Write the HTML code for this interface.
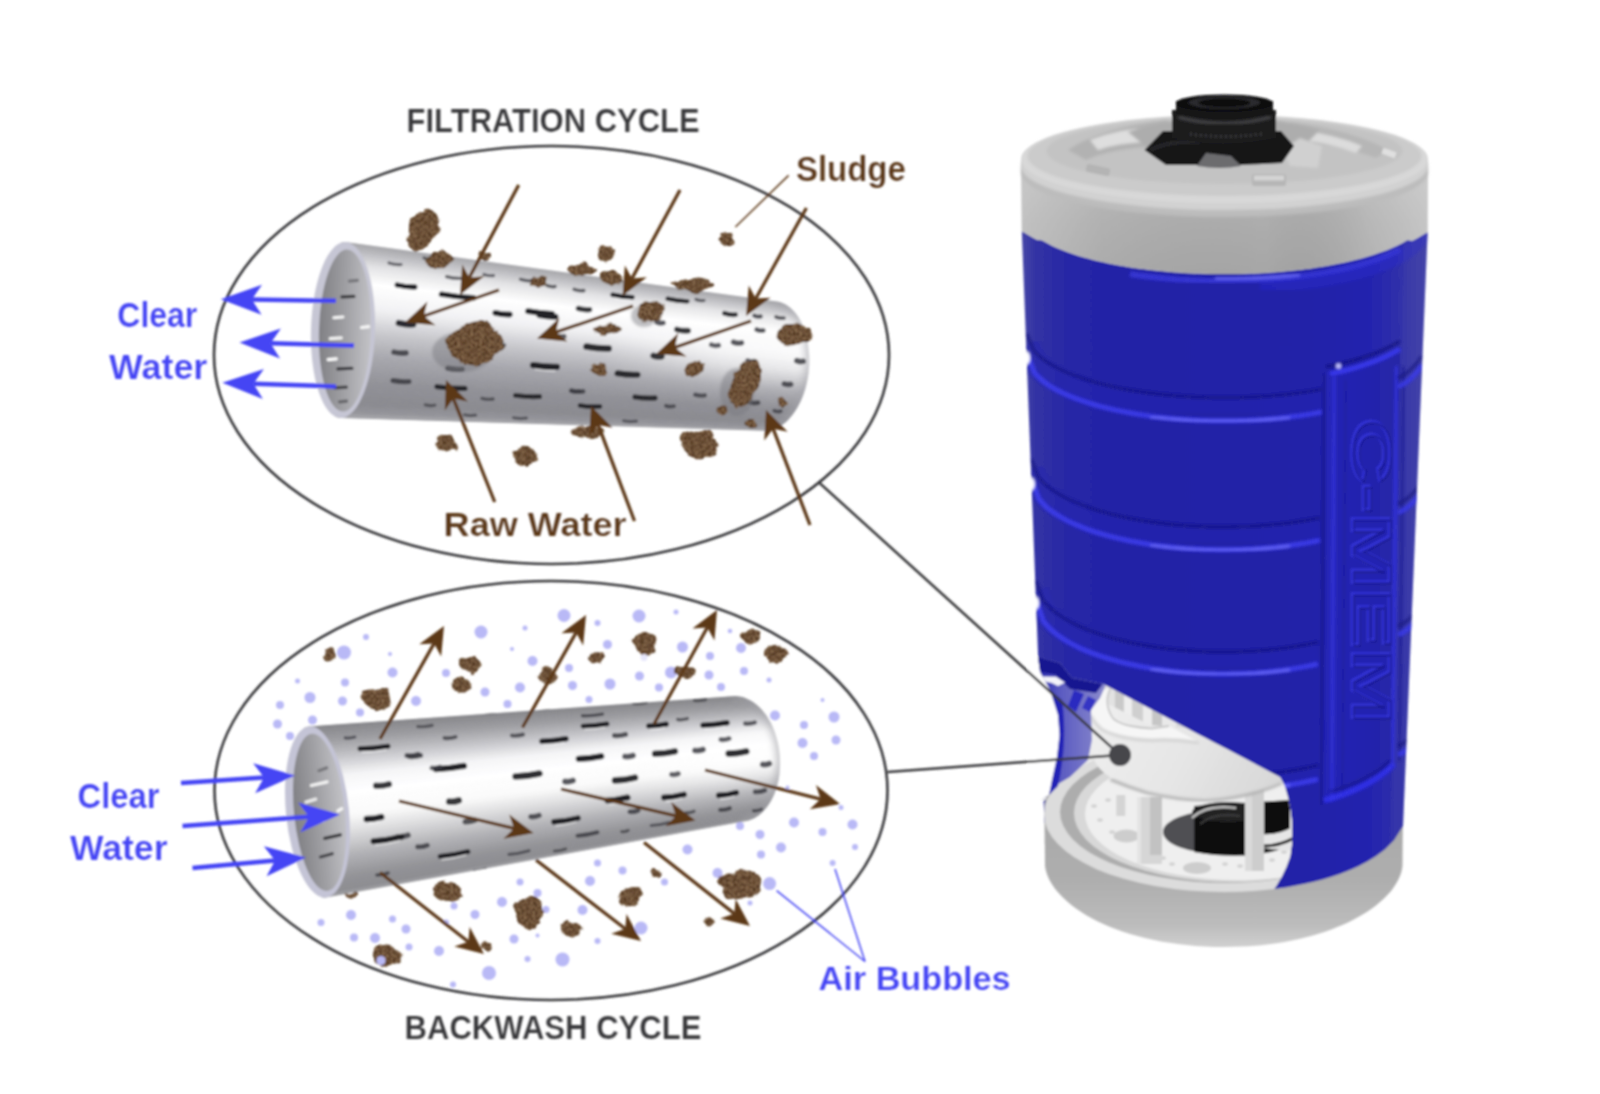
<!DOCTYPE html>
<html><head><meta charset="utf-8"><title>C-MEM filtration and backwash cycle</title>
<style>html,body{margin:0;padding:0;background:#fff;overflow:hidden}svg{display:block}</style></head>
<body>
<svg width="1600" height="1094" viewBox="0 0 1600 1094">
<rect width="1600" height="1094" fill="#fff"/>

<defs>
<filter id="sl" x="-20%" y="-20%" width="140%" height="140%">
  <feTurbulence type="fractalNoise" baseFrequency="0.11" numOctaves="2" seed="3" result="dn"/>
  <feDisplacementMap in="SourceGraphic" in2="dn" scale="7" xChannelSelector="R" yChannelSelector="G" result="sg"/>
  <feTurbulence type="fractalNoise" baseFrequency="0.45" numOctaves="2" seed="7" result="n"/>
  <feColorMatrix in="n" type="matrix" values="0 0 0 0 0  0 0 0 0 0  0 0 0 0 0  1.5 1.5 0 0 -1.22" result="m"/>
  <feFlood flood-color="#9c7e5e" result="fl"/>
  <feComposite in="fl" in2="m" operator="in" result="spk"/>
  <feTurbulence type="fractalNoise" baseFrequency="0.3" numOctaves="1" seed="11" result="n2"/>
  <feColorMatrix in="n2" type="matrix" values="0 0 0 0 0  0 0 0 0 0  0 0 0 0 0  0 1.8 1.8 0 -1.15" result="m2"/>
  <feFlood flood-color="#452a14" result="fl2"/>
  <feComposite in="fl2" in2="m2" operator="in" result="drk"/>
  <feMerge result="tex"><feMergeNode in="sg"/><feMergeNode in="drk"/><feMergeNode in="spk"/></feMerge>
  <feComposite in="tex" in2="sg" operator="in" result="c"/>
  <feGaussianBlur in="c" stdDeviation="0.6"/>
</filter>
<filter id="soft" x="-5%" y="-5%" width="110%" height="110%"><feGaussianBlur stdDeviation="0.3"/></filter>
<filter id="gb" x="0" y="0" width="1600" height="1094" filterUnits="userSpaceOnUse"><feGaussianBlur stdDeviation="0.85"/></filter>
<filter id="soft2" x="-5%" y="-5%" width="110%" height="110%"><feGaussianBlur stdDeviation="1.2"/></filter>
<filter id="soft4" x="-30%" y="-10%" width="160%" height="120%"><feGaussianBlur stdDeviation="3"/></filter>
</defs>

<g filter="url(#gb)">
<g filter="url(#soft)">
<ellipse cx="551.5" cy="355" rx="337.5" ry="209" fill="none" stroke="#38383a" stroke-width="2.6"/>
<ellipse cx="551" cy="790.5" rx="336.5" ry="209.5" fill="none" stroke="#38383a" stroke-width="2.6"/>
</g>
<g filter="url(#soft)">
<linearGradient id="t1g" gradientUnits="userSpaceOnUse" x1="600" y1="0" x2="805" y2="0"><stop offset="0" stop-color="#fff" stop-opacity="0"/><stop offset="0.6" stop-color="#fff" stop-opacity="0.8"/><stop offset="1" stop-color="#fff" stop-opacity="1"/></linearGradient>
<clipPath id="t1c"><path d="M775.5,301.3 L778.6,301.8 L781.6,302.7 L784.6,304 L787.4,305.7 L790.2,307.8 L792.8,310.2 L795.3,312.9 L797.6,316 L799.8,319.4 L801.7,323.1 L803.5,327 L805,331.2 L806.3,335.6 L807.4,340.2 L808.2,344.9 L808.8,349.8 L809.2,354.8 L809.3,359.8 L809.2,364.9 L808.8,370 L808.2,375 L807.3,380 L806.2,385 L804.9,389.8 L803.3,394.4 L801.5,398.9 L799.6,403.2 L797.4,407.2 L795.1,411 L792.6,414.5 L789.9,417.8 L787.2,420.7 L784.3,423.2 L781.3,425.4 L778.3,427.3 L775.2,428.7 L772,429.8 L768.9,430.5 L765.7,430.8 L762.5,430.7 L340.5,418 L338,417.6 L335.6,416.7 L333.1,415.3 L330.8,413.4 L328.5,410.9 L326.3,408 L324.2,404.5 L322.2,400.6 L320.4,396.3 L318.6,391.6 L317.1,386.4 L315.7,381 L314.4,375.2 L313.4,369.1 L312.5,362.8 L311.8,356.3 L311.3,349.7 L311,342.9 L310.9,336 L311,329.1 L311.3,322.2 L311.8,315.4 L312.5,308.6 L313.3,302 L314.4,295.5 L315.6,289.3 L317,283.3 L318.6,277.6 L320.3,272.2 L322.1,267.2 L324.1,262.5 L326.2,258.3 L328.4,254.5 L330.7,251.2 L333,248.4 L335.5,246.1 L337.9,244.3 L340.4,243 L342.9,242.2 L345.5,242Z"/></clipPath>
<g clip-path="url(#t1c)">
<polygon points="336.9,240.8 840,310.2 851.4,314 345.9,244.8" fill="#a7a7ab" stroke="#a7a7ab" stroke-width="0.8"/>
<polygon points="345.9,244.8 851.4,314 855.7,317.1 349.4,248.6" fill="#b0b0b4" stroke="#b0b0b4" stroke-width="0.8"/>
<polygon points="349.4,248.6 855.7,317.1 858.9,320 352,252.3" fill="#b9b9bd" stroke="#b9b9bd" stroke-width="0.8"/>
<polygon points="574.4,279 855.7,317.1 858.9,320 577.3,282.4" fill="url(#t1g)" opacity="0.03"/>
<polygon points="352,252.3 858.9,320 861.4,322.9 354.1,256" fill="#c3c3c7" stroke="#c3c3c7" stroke-width="0.8"/>
<polygon points="577.3,282.4 858.9,320 861.4,322.9 579.6,285.7" fill="url(#t1g)" opacity="0.04"/>
<polygon points="354.1,256 861.4,322.9 863.5,325.7 355.8,259.8" fill="#cdcdd0" stroke="#cdcdd0" stroke-width="0.8"/>
<polygon points="579.6,285.7 861.4,322.9 863.5,325.7 581.5,289.1" fill="url(#t1g)" opacity="0.06"/>
<polygon points="355.8,259.8 863.5,325.7 865.3,328.4 357.3,263.5" fill="#d8d8da" stroke="#d8d8da" stroke-width="0.8"/>
<polygon points="581.5,289.1 863.5,325.7 865.3,328.4 583.1,292.4" fill="url(#t1g)" opacity="0.08"/>
<polygon points="357.3,263.5 865.3,328.4 866.8,331.2 358.6,267.2" fill="#e2e2e4" stroke="#e2e2e4" stroke-width="0.8"/>
<polygon points="583.1,292.4 865.3,328.4 866.8,331.2 584.5,295.7" fill="url(#t1g)" opacity="0.11"/>
<polygon points="358.6,267.2 866.8,331.2 868.1,333.9 359.8,270.9" fill="#e8e8ea" stroke="#e8e8ea" stroke-width="0.8"/>
<polygon points="584.5,295.7 866.8,331.2 868.1,333.9 585.7,298.9" fill="url(#t1g)" opacity="0.15"/>
<polygon points="359.8,270.9 868.1,333.9 869.3,336.6 360.8,274.7" fill="#eeeeef" stroke="#eeeeef" stroke-width="0.8"/>
<polygon points="585.7,298.9 868.1,333.9 869.3,336.6 586.8,302.2" fill="url(#t1g)" opacity="0.19"/>
<polygon points="360.8,274.7 869.3,336.6 870.3,339.3 361.7,278.4" fill="#f4f4f4" stroke="#f4f4f4" stroke-width="0.8"/>
<polygon points="586.8,302.2 869.3,336.6 870.3,339.3 587.8,305.5" fill="url(#t1g)" opacity="0.25"/>
<polygon points="361.7,278.4 870.3,339.3 871.2,342 362.5,282.1" fill="#f9f9fa" stroke="#f9f9fa" stroke-width="0.8"/>
<polygon points="587.8,305.5 870.3,339.3 871.2,342 588.6,308.7" fill="url(#t1g)" opacity="0.31"/>
<polygon points="362.5,282.1 871.2,342 871.9,344.6 363.2,285.8" fill="#ffffff" stroke="#ffffff" stroke-width="0.8"/>
<polygon points="588.6,308.7 871.2,342 871.9,344.6 589.3,311.9" fill="url(#t1g)" opacity="0.38"/>
<polygon points="363.2,285.8 871.9,344.6 872.6,347.3 363.9,289.5" fill="#fdfdfd" stroke="#fdfdfd" stroke-width="0.8"/>
<polygon points="589.3,311.9 871.9,344.6 872.6,347.3 589.9,315.2" fill="url(#t1g)" opacity="0.45"/>
<polygon points="363.9,289.5 872.6,347.3 873.1,349.9 364.4,293.2" fill="#fbfbfc" stroke="#fbfbfc" stroke-width="0.8"/>
<polygon points="589.9,315.2 872.6,347.3 873.1,349.9 590.5,318.4" fill="url(#t1g)" opacity="0.53"/>
<polygon points="364.4,293.2 873.1,349.9 873.5,352.6 364.9,296.9" fill="#f9f9fa" stroke="#f9f9fa" stroke-width="0.8"/>
<polygon points="590.5,318.4 873.1,349.9 873.5,352.6 590.9,321.6" fill="url(#t1g)" opacity="0.60"/>
<polygon points="364.9,296.9 873.5,352.6 873.9,355.2 365.3,300.6" fill="#f7f7f8" stroke="#f7f7f8" stroke-width="0.8"/>
<polygon points="590.9,321.6 873.5,352.6 873.9,355.2 591.3,324.9" fill="url(#t1g)" opacity="0.67"/>
<polygon points="365.3,300.6 873.9,355.2 874.2,357.8 365.6,304.3" fill="#f5f5f7" stroke="#f5f5f7" stroke-width="0.8"/>
<polygon points="591.3,324.9 873.9,355.2 874.2,357.8 591.6,328.1" fill="url(#t1g)" opacity="0.74"/>
<polygon points="365.6,304.3 874.2,357.8 874.3,360.4 365.9,308" fill="#f3f3f5" stroke="#f3f3f5" stroke-width="0.8"/>
<polygon points="591.6,328.1 874.2,357.8 874.3,360.4 591.9,331.3" fill="url(#t1g)" opacity="0.79"/>
<polygon points="365.9,308 874.3,360.4 874.4,363 366.1,311.7" fill="#f0f0f2" stroke="#f0f0f2" stroke-width="0.8"/>
<polygon points="591.9,331.3 874.3,360.4 874.4,363 592,334.5" fill="url(#t1g)" opacity="0.82"/>
<polygon points="366.1,311.7 874.4,363 874.5,365.6 366.3,315.4" fill="#eaeaec" stroke="#eaeaec" stroke-width="0.8"/>
<polygon points="592,334.5 874.4,363 874.5,365.6 592.1,337.7" fill="url(#t1g)" opacity="0.85"/>
<polygon points="366.3,315.4 874.5,365.6 874.4,368.2 366.4,319.1" fill="#e4e4e7" stroke="#e4e4e7" stroke-width="0.8"/>
<polygon points="592.1,337.7 874.5,365.6 874.4,368.2 592.2,340.9" fill="url(#t1g)" opacity="0.85"/>
<polygon points="366.4,319.1 874.4,368.2 874.3,370.7 366.4,322.7" fill="#dedee1" stroke="#dedee1" stroke-width="0.8"/>
<polygon points="592.2,340.9 874.4,368.2 874.3,370.7 592.1,344.1" fill="url(#t1g)" opacity="0.83"/>
<polygon points="366.4,322.7 874.3,370.7 874.1,373.3 366.4,326.4" fill="#d7d7db" stroke="#d7d7db" stroke-width="0.8"/>
<polygon points="592.1,344.1 874.3,370.7 874.1,373.3 592,347.3" fill="url(#t1g)" opacity="0.80"/>
<polygon points="366.4,326.4 874.1,373.3 873.9,375.8 366.3,330.1" fill="#d1d1d5" stroke="#d1d1d5" stroke-width="0.8"/>
<polygon points="592,347.3 874.1,373.3 873.9,375.8 591.9,350.4" fill="url(#t1g)" opacity="0.75"/>
<polygon points="366.3,330.1 873.9,375.8 873.5,378.4 366.2,333.8" fill="#cbcbcf" stroke="#cbcbcf" stroke-width="0.8"/>
<polygon points="591.9,350.4 873.9,375.8 873.5,378.4 591.7,353.6" fill="url(#t1g)" opacity="0.69"/>
<polygon points="366.2,333.8 873.5,378.4 873.1,380.9 366,337.5" fill="#c5c5c9" stroke="#c5c5c9" stroke-width="0.8"/>
<polygon points="591.7,353.6 873.5,378.4 873.1,380.9 591.4,356.8" fill="url(#t1g)" opacity="0.62"/>
<polygon points="366,337.5 873.1,380.9 872.7,383.4 365.8,341.2" fill="#c0c0c5" stroke="#c0c0c5" stroke-width="0.8"/>
<polygon points="591.4,356.8 873.1,380.9 872.7,383.4 591.1,360" fill="url(#t1g)" opacity="0.55"/>
<polygon points="365.8,341.2 872.7,383.4 872.1,386 365.5,344.8" fill="#bbbbc0" stroke="#bbbbc0" stroke-width="0.8"/>
<polygon points="591.1,360 872.7,383.4 872.1,386 590.7,363.1" fill="url(#t1g)" opacity="0.47"/>
<polygon points="365.5,344.8 872.1,386 871.5,388.5 365.1,348.5" fill="#b6b6bb" stroke="#b6b6bb" stroke-width="0.8"/>
<polygon points="590.7,363.1 872.1,386 871.5,388.5 590.2,366.3" fill="url(#t1g)" opacity="0.40"/>
<polygon points="365.1,348.5 871.5,388.5 870.8,391 364.7,352.2" fill="#b1b1b6" stroke="#b1b1b6" stroke-width="0.8"/>
<polygon points="590.2,366.3 871.5,388.5 870.8,391 589.6,369.4" fill="url(#t1g)" opacity="0.33"/>
<polygon points="364.7,352.2 870.8,391 870,393.5 364.2,355.9" fill="#acacb2" stroke="#acacb2" stroke-width="0.8"/>
<polygon points="589.6,369.4 870.8,391 870,393.5 589,372.6" fill="url(#t1g)" opacity="0.27"/>
<polygon points="364.2,355.9 870,393.5 869.2,396 363.7,359.5" fill="#a7a7ad" stroke="#a7a7ad" stroke-width="0.8"/>
<polygon points="589,372.6 870,393.5 869.2,396 588.4,375.7" fill="url(#t1g)" opacity="0.21"/>
<polygon points="363.7,359.5 869.2,396 868.2,398.5 363.1,363.2" fill="#a4a4aa" stroke="#a4a4aa" stroke-width="0.8"/>
<polygon points="588.4,375.7 869.2,396 868.2,398.5 587.6,378.9" fill="url(#t1g)" opacity="0.16"/>
<polygon points="363.1,363.2 868.2,398.5 867.2,400.9 362.4,366.9" fill="#a1a1a7" stroke="#a1a1a7" stroke-width="0.8"/>
<polygon points="587.6,378.9 868.2,398.5 867.2,400.9 586.8,382" fill="url(#t1g)" opacity="0.12"/>
<polygon points="362.4,366.9 867.2,400.9 866.1,403.4 361.7,370.6" fill="#9e9ea4" stroke="#9e9ea4" stroke-width="0.8"/>
<polygon points="586.8,382 867.2,400.9 866.1,403.4 585.9,385.1" fill="url(#t1g)" opacity="0.09"/>
<polygon points="361.7,370.6 866.1,403.4 864.9,405.8 360.9,374.2" fill="#9b9ba1" stroke="#9b9ba1" stroke-width="0.8"/>
<polygon points="585.9,385.1 866.1,403.4 864.9,405.8 584.9,388.3" fill="url(#t1g)" opacity="0.07"/>
<polygon points="360.9,374.2 864.9,405.8 863.5,408.3 359.9,377.9" fill="#98989e" stroke="#98989e" stroke-width="0.8"/>
<polygon points="584.9,388.3 864.9,405.8 863.5,408.3 583.8,391.4" fill="url(#t1g)" opacity="0.05"/>
<polygon points="359.9,377.9 863.5,408.3 862.1,410.7 358.9,381.5" fill="#95959b" stroke="#95959b" stroke-width="0.8"/>
<polygon points="583.8,391.4 863.5,408.3 862.1,410.7 582.6,394.5" fill="url(#t1g)" opacity="0.03"/>
<polygon points="358.9,381.5 862.1,410.7 860.5,413.1 357.8,385.2" fill="#929298" stroke="#929298" stroke-width="0.8"/>
<polygon points="582.6,394.5 862.1,410.7 860.5,413.1 581.2,397.6" fill="url(#t1g)" opacity="0.02"/>
<polygon points="357.8,385.2 860.5,413.1 858.7,415.5 356.6,388.9" fill="#909096" stroke="#909096" stroke-width="0.8"/>
<polygon points="356.6,388.9 858.7,415.5 856.8,417.9 355.3,392.5" fill="#8f8f95" stroke="#8f8f95" stroke-width="0.8"/>
<polygon points="355.3,392.5 856.8,417.9 854.7,420.2 353.8,396.2" fill="#8e8e94" stroke="#8e8e94" stroke-width="0.8"/>
<polygon points="353.8,396.2 854.7,420.2 852.3,422.5 352,399.8" fill="#8c8c92" stroke="#8c8c92" stroke-width="0.8"/>
<polygon points="352,399.8 852.3,422.5 849.7,424.8 350.1,403.4" fill="#8b8b91" stroke="#8b8b91" stroke-width="0.8"/>
<polygon points="350.1,403.4 849.7,424.8 846.6,427.1 347.8,407.1" fill="#8b8b91" stroke="#8b8b91" stroke-width="0.8"/>
<polygon points="347.8,407.1 846.6,427.1 842.8,429.3 345,410.7" fill="#909096" stroke="#909096" stroke-width="0.8"/>
<polygon points="345,410.7 842.8,429.3 837.8,431.3 341.3,414.3" fill="#94949a" stroke="#94949a" stroke-width="0.8"/>
<polygon points="341.3,414.3 837.8,431.3 825.8,432.6 332.1,417.7" fill="#a1a1a6" stroke="#a1a1a6" stroke-width="0.8"/>
<path d="M775.5,301.3 L779.6,302.1 L783.6,303.6 L787.4,305.7 L791.1,308.5 L794.5,312 L797.6,316 L800.4,320.6 L802.9,325.7 L805,331.2 L806.7,337.1 L808,343.3 L808.8,349.8 L809.3,356.4 L809.3,363.2 L808.8,370 L807.9,376.7 L806.6,383.3 L804.9,389.8 L802.7,395.9 L800.2,401.8 L797.4,407.2 L794.3,412.2 L790.8,416.7 L787.2,420.7 L783.3,424 L779.3,426.7 L775.2,428.7 L771,430.1 L766.7,430.7 L762.5,430.7" fill="none" stroke="#a4a4aa" stroke-width="9" opacity="0.55" filter="url(#soft4)"/>
<path d="M389,262.9 Q395,264.9 401,264.5" stroke="#3c3c42" stroke-width="3.2" stroke-linecap="round" fill="none" opacity="0.72"/>
<path d="M424,257.9 Q430,259.9 436,259.5" stroke="#3c3c42" stroke-width="3.2" stroke-linecap="round" fill="none" opacity="0.75"/>
<path d="M397.2,285 Q406,287.2 414.8,287" stroke="#222226" stroke-width="5.3" stroke-linecap="round" fill="none" opacity="1.00"/>
<path d="M399.2,288.6 Q406,290.6 412.8,290.7" stroke="#fff" stroke-width="1.4" stroke-linecap="round" fill="none" opacity="0.6"/>
<path d="M446.5,276.6 Q453.7,278.7 460.9,278.4" stroke="#3c3c42" stroke-width="3.2" stroke-linecap="round" fill="none" opacity="0.75"/>
<path d="M441.5,294.2 Q457.5,297.2 473.5,297.8" stroke="#222226" stroke-width="5.5" stroke-linecap="round" fill="none" opacity="1.00"/>
<path d="M443.5,297.9 Q457.5,300.7 471.5,301.5" stroke="#fff" stroke-width="1.4" stroke-linecap="round" fill="none" opacity="0.6"/>
<path d="M495.3,312.9 Q502.5,314.9 509.7,314.5" stroke="#222226" stroke-width="5.9" stroke-linecap="round" fill="none" opacity="1.00"/>
<path d="M497.3,316.9 Q502.5,318.7 507.7,318.4" stroke="#fff" stroke-width="1.4" stroke-linecap="round" fill="none" opacity="0.6"/>
<path d="M528,311.2 Q540,313.7 552,313.8" stroke="#222226" stroke-width="5.8" stroke-linecap="round" fill="none" opacity="1.00"/>
<path d="M530,315.1 Q540,317.4 550,317.7" stroke="#fff" stroke-width="1.4" stroke-linecap="round" fill="none" opacity="0.6"/>
<path d="M483.9,274.4 Q488.7,276.2 493.5,275.6" stroke="#3c3c42" stroke-width="3.2" stroke-linecap="round" fill="none" opacity="0.72"/>
<path d="M520.4,279.3 Q526,281.2 531.6,280.7" stroke="#3c3c42" stroke-width="3.2" stroke-linecap="round" fill="none" opacity="0.78"/>
<path d="M398.8,323 Q406,324.9 413.2,324.4" stroke="#222226" stroke-width="6.3" stroke-linecap="round" fill="none" opacity="0.95"/>
<path d="M394,352.1 Q400,353.7 406,352.9" stroke="#3c3c42" stroke-width="5.6" stroke-linecap="round" fill="none" opacity="0.85"/>
<path d="M393,380.5 Q401,382.2 409,381.5" stroke="#3c3c42" stroke-width="5.1" stroke-linecap="round" fill="none" opacity="0.88"/>
<path d="M447.8,368.2 Q455,369.9 462.2,369.2" stroke="#3c3c42" stroke-width="5.3" stroke-linecap="round" fill="none" opacity="0.85"/>
<path d="M437,386.7 Q451,388.7 465,388.3" stroke="#222226" stroke-width="5.2" stroke-linecap="round" fill="none" opacity="0.95"/>
<path d="M533,365.1 Q545,367.2 557,366.9" stroke="#222226" stroke-width="6.2" stroke-linecap="round" fill="none" opacity="1.00"/>
<path d="M535,369.2 Q545,371.1 555,371" stroke="#fff" stroke-width="1.4" stroke-linecap="round" fill="none" opacity="0.6"/>
<path d="M481.9,398.4 Q487.5,399.9 493.1,399" stroke="#3c3c42" stroke-width="3.3" stroke-linecap="round" fill="none" opacity="0.75"/>
<path d="M515.5,395.4 Q527.5,397.2 539.5,396.6" stroke="#222226" stroke-width="5" stroke-linecap="round" fill="none" opacity="0.93"/>
<path d="M571,390.8 Q575,392.2 579,391.2" stroke="#3c3c42" stroke-width="4.3" stroke-linecap="round" fill="none" opacity="0.80"/>
<path d="M547,285.5 Q551,287.2 555,286.5" stroke="#3c3c42" stroke-width="3.5" stroke-linecap="round" fill="none" opacity="0.80"/>
<path d="M574.2,289.4 Q579,291.2 583.8,290.6" stroke="#3c3c42" stroke-width="3.6" stroke-linecap="round" fill="none" opacity="0.80"/>
<path d="M612.5,294.7 Q622.5,297.2 632.5,297.3" stroke="#222226" stroke-width="4.5" stroke-linecap="round" fill="none" opacity="1.00"/>
<path d="M614.5,298 Q622.5,300.2 630.5,300.5" stroke="#fff" stroke-width="1.4" stroke-linecap="round" fill="none" opacity="0.6"/>
<path d="M578.4,308.4 Q584,310.2 589.6,309.6" stroke="#222226" stroke-width="5.4" stroke-linecap="round" fill="none" opacity="0.90"/>
<path d="M539.5,315.2 Q547.5,317.2 555.5,316.8" stroke="#222226" stroke-width="5.9" stroke-linecap="round" fill="none" opacity="1.00"/>
<path d="M541.5,319.1 Q547.5,320.9 553.5,320.8" stroke="#fff" stroke-width="1.4" stroke-linecap="round" fill="none" opacity="0.6"/>
<path d="M667.5,298.7 Q677.5,301.2 687.5,301.3" stroke="#222226" stroke-width="4.3" stroke-linecap="round" fill="none" opacity="0.95"/>
<path d="M724.4,313.3 Q730,315.2 735.6,314.7" stroke="#222226" stroke-width="4.8" stroke-linecap="round" fill="none" opacity="0.90"/>
<path d="M754.3,315.6 Q757.5,317.2 760.7,316.4" stroke="#3c3c42" stroke-width="4.2" stroke-linecap="round" fill="none" opacity="0.85"/>
<path d="M656.8,322.1 Q660,323.7 663.2,322.9" stroke="#3c3c42" stroke-width="5.1" stroke-linecap="round" fill="none" opacity="0.85"/>
<path d="M676.9,329.4 Q682.5,331.2 688.1,330.6" stroke="#222226" stroke-width="5.8" stroke-linecap="round" fill="none" opacity="0.90"/>
<path d="M756.8,329.6 Q760,331.2 763.2,330.4" stroke="#3c3c42" stroke-width="4.9" stroke-linecap="round" fill="none" opacity="0.85"/>
<path d="M776,317 Q780,318.7 784,318" stroke="#3c3c42" stroke-width="3.7" stroke-linecap="round" fill="none" opacity="0.80"/>
<path d="M586.3,346.5 Q597.5,348.7 608.7,348.5" stroke="#222226" stroke-width="6.4" stroke-linecap="round" fill="none" opacity="0.95"/>
<path d="M653.5,355.7 Q657.5,357.2 661.5,356.3" stroke="#222226" stroke-width="6.4" stroke-linecap="round" fill="none" opacity="0.90"/>
<path d="M733.5,342.1 Q737.5,343.7 741.5,342.9" stroke="#3c3c42" stroke-width="5.5" stroke-linecap="round" fill="none" opacity="0.85"/>
<path d="M617.5,373.3 Q627.5,375.2 637.5,374.7" stroke="#222226" stroke-width="6.1" stroke-linecap="round" fill="none" opacity="0.95"/>
<path d="M796.8,360.7 Q800,362.2 803.2,361.3" stroke="#3c3c42" stroke-width="5.7" stroke-linecap="round" fill="none" opacity="0.85"/>
<path d="M571.9,390.7 Q577.5,392.2 583.1,391.3" stroke="#3c3c42" stroke-width="4.8" stroke-linecap="round" fill="none" opacity="0.85"/>
<path d="M635,397 Q645,398.7 655,398" stroke="#222226" stroke-width="5.3" stroke-linecap="round" fill="none" opacity="0.93"/>
<path d="M666,405.8 Q670,407.2 674,406.2" stroke="#3c3c42" stroke-width="3.9" stroke-linecap="round" fill="none" opacity="0.80"/>
<path d="M580,405.5 Q590,407.2 600,406.5" stroke="#222226" stroke-width="4.7" stroke-linecap="round" fill="none" opacity="0.95"/>
<path d="M747.8,360.7 Q751,362.2 754.2,361.3" stroke="#3c3c42" stroke-width="5.1" stroke-linecap="round" fill="none" opacity="0.80"/>
<path d="M784.3,383.8 Q787.5,385.2 790.7,384.2" stroke="#3c3c42" stroke-width="5.5" stroke-linecap="round" fill="none" opacity="0.85"/>
<path d="M750,402.3 Q754,403.7 758,402.7" stroke="#3c3c42" stroke-width="4.8" stroke-linecap="round" fill="none" opacity="0.85"/>
<path d="M774.3,410.8 Q777.5,412.2 780.7,411.2" stroke="#3c3c42" stroke-width="3.9" stroke-linecap="round" fill="none" opacity="0.80"/>
<path d="M464.4,414.8 Q470,416.2 475.6,415.2" stroke="#3c3c42" stroke-width="3.2" stroke-linecap="round" fill="none" opacity="0.68"/>
<path d="M513.6,417.8 Q520,419.2 526.4,418.2" stroke="#3c3c42" stroke-width="3.2" stroke-linecap="round" fill="none" opacity="0.68"/>
<path d="M623.6,420.8 Q630,422.2 636.4,421.2" stroke="#3c3c42" stroke-width="3.2" stroke-linecap="round" fill="none" opacity="0.68"/>
<path d="M696,299.5 Q700,301.2 704,300.5" stroke="#3c3c42" stroke-width="3.2" stroke-linecap="round" fill="none" opacity="0.75"/>
<path d="M711.4,344.7 Q715,346.2 718.6,345.3" stroke="#3c3c42" stroke-width="5" stroke-linecap="round" fill="none" opacity="0.80"/>
<path d="M695.2,394.7 Q700,396.2 704.8,395.3" stroke="#3c3c42" stroke-width="4.4" stroke-linecap="round" fill="none" opacity="0.80"/>
<path d="M496,344.7 Q500,346.2 504,345.3" stroke="#3c3c42" stroke-width="4.5" stroke-linecap="round" fill="none" opacity="0.75"/>
<path d="M425.2,404.8 Q430,406.2 434.8,405.2" stroke="#3c3c42" stroke-width="3.2" stroke-linecap="round" fill="none" opacity="0.70"/>
<path d="M556,335.6 Q560,337.2 564,336.4" stroke="#3c3c42" stroke-width="5.1" stroke-linecap="round" fill="none" opacity="0.80"/>
</g>
<linearGradient id="o1" x1="0" y1="0" x2="1" y2="0"><stop offset="0" stop-color="#808084"/><stop offset="0.5" stop-color="#a0a0a4"/><stop offset="1" stop-color="#c2c2c6"/></linearGradient>
<g transform="rotate(1.6 343 330)">
<ellipse cx="343" cy="330" rx="32" ry="88" fill="#c6c6d4"/>
<ellipse cx="345" cy="330.5" rx="26" ry="81" fill="url(#o1)"/>
<line x1="341.0" y1="297" x2="353.0" y2="296" stroke="#3a3a3e" stroke-width="3.2" stroke-linecap="round"/>
<line x1="333.5" y1="318" x2="342.5" y2="317" stroke="#f4f4f4" stroke-width="3.2" stroke-linecap="round"/>
<line x1="330.5" y1="339" x2="341.5" y2="338" stroke="#f0f0f0" stroke-width="3.2" stroke-linecap="round"/>
<line x1="361.5" y1="327" x2="368.5" y2="326" stroke="#f6f6f6" stroke-width="3.2" stroke-linecap="round"/>
<line x1="329.0" y1="360" x2="337.0" y2="359" stroke="#fafafa" stroke-width="3.2" stroke-linecap="round"/>
<line x1="339.0" y1="369" x2="353.0" y2="368" stroke="#38383c" stroke-width="3.2" stroke-linecap="round"/>
<line x1="336.0" y1="388" x2="348.0" y2="387" stroke="#444448" stroke-width="3.2" stroke-linecap="round"/>
<line x1="348.0" y1="281" x2="356.0" y2="280" stroke="#77777b" stroke-width="3.2" stroke-linecap="round"/>
<line x1="341.5" y1="402" x2="348.5" y2="401" stroke="#66666a" stroke-width="3.2" stroke-linecap="round"/>
</g>
</g>
<g fill="#77777d" opacity="0.45" filter="url(#soft2)">
<ellipse cx="462" cy="352" rx="30.0" ry="20.0"/>
<ellipse cx="737" cy="392" rx="17.0" ry="24.0"/>
<ellipse cx="644" cy="316" rx="13.0" ry="11.0"/>
</g>
<g filter="url(#sl)" fill="#5e4029">
<path d="M434.2,237.7Q428.5,245 424.2,248.1Q420,251.2 413.8,250.3Q407.5,249.3 408.3,242.4Q409.1,235.6 409,227Q408.9,218.5 413.7,216.6Q418.5,214.6 423.3,210.6Q428,206.6 433,210.2Q438.1,213.7 439,222.1Q440,230.5 434.2,237.7Z"/>
<path d="M452.7,262.6Q448.6,263.8 444.4,266.9Q440.2,270.1 436.1,268.4Q431.9,266.8 428.2,264.9Q424.5,263 426.2,260.1Q427.9,257.3 429.9,255Q431.9,252.7 437.6,250.9Q443.4,249 447.5,252Q451.5,255.1 454.1,258.3Q456.7,261.5 452.7,262.6Z"/>
<path d="M490.5,257.4Q489.8,259.2 487.3,259.5Q484.7,259.8 482.9,260.6Q481,261.5 479.7,259.6Q478.5,257.8 478.2,255.7Q477.9,253.6 479.6,252.6Q481.2,251.5 483.2,251.7Q485.2,252 487.9,252.2Q490.6,252.4 490.9,254Q491.1,255.6 490.5,257.4Z"/>
<path d="M545.5,282.3Q544.8,284 543.2,285.2Q541.6,286.4 537.1,286.5Q532.7,286.5 532.1,284.4Q531.6,282.4 531.6,280.7Q531.6,279.1 533.2,278.1Q534.8,277.1 537.4,275.4Q540,273.7 543.8,275.4Q547.6,277.1 546.9,278.8Q546.1,280.6 545.5,282.3Z"/>
<path d="M595.5,271.7Q593.5,274.2 587.7,275.3Q581.9,276.3 578.1,275.4Q574.3,274.5 569,272.4Q563.7,270.4 566.3,268.6Q569,266.8 571.1,265.7Q573.2,264.5 578.1,263.7Q583,262.9 585.9,264Q588.8,265.2 593.1,267.2Q597.4,269.2 595.5,271.7Z"/>
<path d="M500.8,350.3Q494.2,355.3 489.8,360.5Q485.3,365.6 473.1,365.2Q460.9,364.7 454.2,358.6Q447.5,352.5 446.7,344.2Q446,335.9 455.3,330Q464.7,324.1 473.1,321.7Q481.5,319.3 488.5,323.1Q495.5,326.9 501.5,336.1Q507.4,345.3 500.8,350.3Z"/>
<path d="M612.9,256.1Q611.7,258.5 609.6,260.1Q607.5,261.8 604.8,261.8Q602.2,261.9 599.8,259.9Q597.5,257.8 597.9,255.2Q598.3,252.5 599.1,249Q599.9,245.5 603.2,246.1Q606.5,246.7 611.1,247.2Q615.7,247.6 615,250.6Q614.2,253.6 612.9,256.1Z"/>
<path d="M621.9,280.2Q620.1,283.2 616.5,284.1Q612.8,285.1 608.5,284.3Q604.2,283.6 602,282.1Q599.7,280.5 599.7,277.9Q599.6,275.2 601.1,272.5Q602.6,269.9 606.5,270.3Q610.5,270.7 613.5,271.6Q616.4,272.4 620,274.8Q623.6,277.1 621.9,280.2Z"/>
<path d="M735.7,241.8Q735.9,244.6 733.1,245.9Q730.2,247.1 726.9,245.7Q723.5,244.3 721.2,243.1Q719,241.9 719.3,239.6Q719.7,237.3 721.8,234.5Q723.8,231.6 726.5,231.9Q729.2,232.2 730.8,233.2Q732.3,234.2 733.9,236.6Q735.4,238.9 735.7,241.8Z"/>
<path d="M711.2,287.3Q707.7,289.5 701.8,291.9Q696,294.3 690.2,292.4Q684.5,290.5 680,289Q675.6,287.4 672,284.9Q668.4,282.3 678.2,280.8Q688,279.3 694.2,278.1Q700.3,276.9 704.2,278.6Q708.2,280.2 711.4,282.7Q714.7,285.2 711.2,287.3Z"/>
<path d="M662.5,315.4Q660,320 656.7,321.9Q653.4,323.9 649.4,323.2Q645.3,322.4 640.8,318.9Q636.2,315.4 637.7,311.9Q639.2,308.5 640.4,303.9Q641.6,299.4 647.5,300.6Q653.4,301.7 659.3,302.3Q665.3,302.8 665.1,306.8Q664.9,310.8 662.5,315.4Z"/>
<path d="M619.6,331.4Q616,332.8 613.7,333.6Q611.4,334.4 605.4,334.8Q599.3,335.2 595.6,333.4Q591.9,331.5 591.8,329.8Q591.8,328.1 595.1,327.1Q598.4,326.1 603.4,325Q608.3,324 613.6,324.8Q618.8,325.7 621,327.8Q623.2,330 619.6,331.4Z"/>
<path d="M811.1,334.6Q810.4,340.5 804.7,342.2Q798.9,343.9 793.5,345Q788.2,346.2 783.3,343.8Q778.5,341.5 777.4,338.4Q776.4,335.3 778,331.6Q779.6,327.9 786.8,324.6Q794,321.3 797.3,322.7Q800.6,324.1 806.2,326.4Q811.8,328.7 811.1,334.6Z"/>
<path d="M607,371.5Q606.2,374.8 603.5,374.9Q600.7,374.9 597.4,375.1Q594.2,375.3 592.6,373.7Q591,372 590.6,369.3Q590.3,366.5 592.6,365.3Q594.9,364.2 598,363.5Q601.2,362.8 603.4,363.1Q605.7,363.4 606.7,365.7Q607.8,368.1 607,371.5Z"/>
<path d="M701.6,372.2Q700.9,374.4 698.1,375.3Q695.2,376.1 691.9,376.7Q688.5,377.4 685.6,374.6Q682.8,371.9 684.5,369.3Q686.2,366.7 688.6,364.1Q691.1,361.5 693.5,361.2Q695.9,360.9 700.4,361.8Q704.9,362.7 703.7,366.3Q702.4,370 701.6,372.2Z"/>
<path d="M754.7,394.4Q750.8,401.8 745.2,406.1Q739.5,410.5 734.5,407.9Q729.6,405.3 728.8,398.2Q728,391 730.3,383Q732.5,375 737.4,368.9Q742.2,362.8 748.9,359.6Q755.7,356.5 758.7,361.9Q761.8,367.3 760.2,377.2Q758.6,387.1 754.7,394.4Z"/>
<path d="M725.8,411.7Q724.3,413.3 722.9,414.4Q721.6,415.5 720.1,414.4Q718.6,413.4 717.5,412.8Q716.4,412.2 716.5,410.2Q716.6,408.2 717.6,407.1Q718.5,406.1 720.7,405.1Q722.9,404.1 724.5,404.9Q726.2,405.8 726.8,407.9Q727.4,410 725.8,411.7Z"/>
<path d="M787.3,403.1Q786,404.8 784.5,406.1Q783.1,407.4 781.1,407Q779.1,406.7 778.2,405.3Q777.2,404 777.1,402Q777,400 777.9,398.2Q778.9,396.4 781.5,395.9Q784.1,395.5 784.9,397.1Q785.7,398.7 787.1,400Q788.5,401.4 787.3,403.1Z"/>
<path d="M756.3,425.8Q755.2,427.3 753.8,428.7Q752.4,430.2 750.7,428.9Q749,427.7 747.8,426.7Q746.6,425.8 746.5,424.2Q746.4,422.7 747.2,421.5Q748,420.4 749.8,419.6Q751.7,418.9 752.8,420.1Q754,421.2 755.7,422.8Q757.3,424.3 756.3,425.8Z"/>
<path d="M718,450.4Q715.8,455.7 710,457.2Q704.1,458.6 694.6,457.9Q685,457.3 684.4,452.1Q683.7,447 679.7,442Q675.8,437 682.1,434.6Q688.4,432.1 696.6,430.6Q704.8,429.1 708.1,431.2Q711.5,433.4 715.9,439.2Q720.2,445 718,450.4Z"/>
<path d="M604.3,432.9Q600.9,435.7 596.8,437.2Q592.6,438.8 584.3,437.8Q576,436.8 573.8,434.9Q571.6,433.1 570.6,431.4Q569.6,429.7 574.8,428Q580,426.2 585.6,425.7Q591.2,425.2 594.3,426.2Q597.3,427.3 602.5,428.7Q607.8,430.2 604.3,432.9Z"/>
<path d="M458.2,447.3Q459.9,449.6 454.3,450.1Q448.8,450.6 444.2,450.6Q439.6,450.6 437.3,448.1Q435.1,445.7 435.4,443Q435.6,440.4 437,437.6Q438.5,434.8 444,434.4Q449.6,433.9 451.8,437Q454,440.1 455.2,442.5Q456.5,444.9 458.2,447.3Z"/>
<path d="M534.6,461.5Q530.4,464.1 528.1,466.5Q525.7,468.9 522.4,467.3Q519.1,465.7 516.3,463.9Q513.5,462.2 513.1,458Q512.7,453.8 515.4,451.5Q518.2,449.3 522.4,447.3Q526.7,445.3 530.5,446.7Q534.3,448 536.5,453.5Q538.7,459 534.6,461.5Z"/>
</g>
<g filter="url(#soft)">
<line x1="518.7" y1="185" x2="469.4" y2="277.4" stroke="#5c3819" stroke-width="3.3" /><polygon points="460,295 462.2,264.4 469.4,277.4 484.2,276.2" fill="#5c3819" />
<line x1="499" y1="290" x2="423.9" y2="316" stroke="#5c3819" stroke-width="3.3" /><polygon points="405,322.5 427.4,301.5 423.9,316 435.5,325.2" fill="#5c3819" />
<line x1="680" y1="190" x2="632" y2="278.4" stroke="#5c3819" stroke-width="3.3" /><polygon points="622.5,296 624.9,265.4 632,278.4 646.8,277.3" fill="#5c3819" />
<line x1="633" y1="306" x2="555.9" y2="332.1" stroke="#5c3819" stroke-width="3.3" /><polygon points="537,338.5 559.5,317.7 555.9,332.1 567.5,341.4" fill="#5c3819" />
<line x1="806.4" y1="208" x2="755.8" y2="298.5" stroke="#5c3819" stroke-width="3.3" /><polygon points="746,316 748.8,285.5 755.8,298.5 770.6,297.7" fill="#5c3819" />
<line x1="751" y1="321" x2="674.9" y2="347.4" stroke="#5c3819" stroke-width="3.3" /><polygon points="656,354 678.3,333 674.9,347.4 686.6,356.6" fill="#5c3819" />
<line x1="494.7" y1="502" x2="453.4" y2="398.6" stroke="#5c3819" stroke-width="3.3" /><polygon points="446,380 468,401.4 453.4,398.6 444.8,410.6" fill="#5c3819" />
<line x1="634.5" y1="521" x2="598.1" y2="424.7" stroke="#5c3819" stroke-width="3.3" /><polygon points="591,406 612.6,427.8 598.1,424.7 589.2,436.6" fill="#5c3819" />
<line x1="810" y1="525" x2="773.1" y2="428.7" stroke="#5c3819" stroke-width="3.3" /><polygon points="766,410 787.7,431.7 773.1,428.7 764.3,440.6" fill="#5c3819" />
<line x1="788.6" y1="175.4" x2="735.4" y2="227" stroke="#5c3819" stroke-width="1.5"/>
<line x1="336" y1="300.8" x2="251.8" y2="299.6" stroke="#4444f4" stroke-width="4.5" /><polygon points="220.8,299.2 262,284.8 251.8,299.6 261.6,314.8" fill="#4444f4" />
<line x1="354" y1="345.5" x2="270.5" y2="343.3" stroke="#4444f4" stroke-width="4.5" /><polygon points="239.5,342.5 280.9,328.6 270.5,343.3 280.1,358.6" fill="#4444f4" />
<line x1="336" y1="386.4" x2="253.4" y2="383.7" stroke="#4444f4" stroke-width="4.5" /><polygon points="222.4,382.7 263.9,369 253.4,383.7 262.9,399" fill="#4444f4" />
<text x="406.6" y="132" font-family="Liberation Sans, Arial, sans-serif" font-weight="bold" font-size="33.5" fill="#38383a" stroke="#fff" stroke-width="0.15" textLength="293" lengthAdjust="spacingAndGlyphs" text-anchor="start">FILTRATION CYCLE</text>
<text x="404.5" y="1039" font-family="Liberation Sans, Arial, sans-serif" font-weight="bold" font-size="33" fill="#38383a" stroke="#fff" stroke-width="0.15" textLength="297" lengthAdjust="spacingAndGlyphs" text-anchor="start">BACKWASH CYCLE</text>
<text x="117.3" y="327" font-family="Liberation Sans, Arial, sans-serif" font-weight="bold" font-size="34.5" fill="#4444f4" stroke="#fff" stroke-width="0.15" textLength="80" lengthAdjust="spacingAndGlyphs" text-anchor="start">Clear</text>
<text x="109" y="379" font-family="Liberation Sans, Arial, sans-serif" font-weight="bold" font-size="34.5" fill="#4444f4" stroke="#fff" stroke-width="0.15" textLength="98.3" lengthAdjust="spacingAndGlyphs" text-anchor="start">Water</text>
<text x="795.9" y="181.4" font-family="Liberation Sans, Arial, sans-serif" font-weight="bold" font-size="35" fill="#5c3819" stroke="#fff" stroke-width="0.15" textLength="110" lengthAdjust="spacingAndGlyphs" text-anchor="start">Sludge</text>
<text x="443.6" y="535.5" font-family="Liberation Sans, Arial, sans-serif" font-weight="bold" font-size="33.5" fill="#5c3819" stroke="#fff" stroke-width="0.15" textLength="183" lengthAdjust="spacingAndGlyphs" text-anchor="start">Raw Water</text>
<text x="77.5" y="807.5" font-family="Liberation Sans, Arial, sans-serif" font-weight="bold" font-size="34.5" fill="#4444f4" stroke="#fff" stroke-width="0.15" textLength="82" lengthAdjust="spacingAndGlyphs" text-anchor="start">Clear</text>
<text x="70" y="860" font-family="Liberation Sans, Arial, sans-serif" font-weight="bold" font-size="34.5" fill="#4444f4" stroke="#fff" stroke-width="0.15" textLength="97.5" lengthAdjust="spacingAndGlyphs" text-anchor="start">Water</text>
<text x="818.6" y="990.4" font-family="Liberation Sans, Arial, sans-serif" font-weight="bold" font-size="33.5" fill="#4444f4" stroke="#fff" stroke-width="0.15" textLength="192" lengthAdjust="spacingAndGlyphs" text-anchor="start">Air Bubbles</text>
</g>
<g filter="url(#soft)">
<g fill="#b9b9f6">
<circle cx="344" cy="652.5" r="7"/>
<circle cx="366" cy="637" r="3"/>
<circle cx="392.5" cy="672.5" r="5"/>
<circle cx="345" cy="682.5" r="4"/>
<circle cx="310" cy="697.5" r="5.5"/>
<circle cx="342.5" cy="701" r="4.5"/>
<circle cx="280" cy="705" r="4"/>
<circle cx="416" cy="701" r="5"/>
<circle cx="360" cy="712.5" r="4"/>
<circle cx="312.5" cy="720" r="4.5"/>
<circle cx="277.5" cy="724" r="4.5"/>
<circle cx="290" cy="736" r="4"/>
<circle cx="297.5" cy="681" r="2.5"/>
<circle cx="390" cy="654" r="2"/>
<circle cx="481" cy="632" r="6.5"/>
<circle cx="564" cy="615.5" r="6.5"/>
<circle cx="639" cy="616" r="6.5"/>
<circle cx="525" cy="628" r="2.5"/>
<circle cx="597.5" cy="623" r="3"/>
<circle cx="676" cy="612" r="2.5"/>
<circle cx="607.5" cy="644.5" r="4.5"/>
<circle cx="682.5" cy="647" r="5.5"/>
<circle cx="532.5" cy="661" r="5"/>
<circle cx="569" cy="668" r="4"/>
<circle cx="446" cy="673" r="4"/>
<circle cx="610" cy="684" r="5.5"/>
<circle cx="520" cy="687.5" r="5"/>
<circle cx="572.5" cy="685.5" r="4.5"/>
<circle cx="485" cy="692" r="4.5"/>
<circle cx="507.5" cy="704" r="4"/>
<circle cx="589" cy="699.5" r="3.5"/>
<circle cx="639.5" cy="676" r="4.5"/>
<circle cx="659" cy="687.5" r="4"/>
<circle cx="671" cy="672.5" r="6"/>
<circle cx="710" cy="656" r="4"/>
<circle cx="709" cy="675" r="4.5"/>
<circle cx="721" cy="687" r="4"/>
<circle cx="741" cy="648" r="5"/>
<circle cx="744" cy="671" r="4"/>
<circle cx="769" cy="680" r="2.5"/>
<circle cx="775" cy="715.5" r="5"/>
<circle cx="762.5" cy="741" r="5"/>
<circle cx="794" cy="822.5" r="5"/>
<circle cx="740" cy="826" r="4"/>
<circle cx="760" cy="834.5" r="4.5"/>
<circle cx="730" cy="631" r="2.3"/>
<circle cx="512" cy="649" r="2"/>
<circle cx="804" cy="725" r="4"/>
<circle cx="834" cy="717" r="5.5"/>
<circle cx="802.5" cy="743" r="5"/>
<circle cx="836" cy="740" r="4.5"/>
<circle cx="814" cy="756" r="4"/>
<circle cx="822.5" cy="700" r="2"/>
<circle cx="852.5" cy="824.5" r="5"/>
<circle cx="822.5" cy="832" r="4"/>
<circle cx="841" cy="807.5" r="2.5"/>
<circle cx="787.5" cy="787.5" r="2"/>
<circle cx="597.5" cy="863" r="3.5"/>
<circle cx="622.5" cy="870.5" r="4"/>
<circle cx="687.5" cy="849.5" r="5"/>
<circle cx="590" cy="881" r="5"/>
<circle cx="520" cy="882" r="3.5"/>
<circle cx="664.5" cy="882" r="3.5"/>
<circle cx="537.5" cy="893" r="4"/>
<circle cx="502" cy="902" r="5"/>
<circle cx="454" cy="906" r="3.5"/>
<circle cx="546" cy="909.5" r="3.5"/>
<circle cx="582.5" cy="910" r="5"/>
<circle cx="475" cy="914.5" r="4.5"/>
<circle cx="406" cy="929" r="4.5"/>
<circle cx="641" cy="928" r="6.5"/>
<circle cx="514" cy="939" r="4.5"/>
<circle cx="597.5" cy="941" r="3"/>
<circle cx="409" cy="947" r="3.5"/>
<circle cx="439" cy="951" r="5"/>
<circle cx="562.5" cy="959.5" r="7"/>
<circle cx="527.5" cy="959" r="3"/>
<circle cx="489" cy="973" r="7"/>
<circle cx="453" cy="984.5" r="3"/>
<circle cx="717.5" cy="873" r="5"/>
<circle cx="769.6" cy="883.6" r="6.5"/>
<circle cx="750" cy="903" r="2.5"/>
<circle cx="781" cy="847.5" r="5"/>
<circle cx="761" cy="854.5" r="4"/>
<circle cx="537.5" cy="935.5" r="2"/>
<circle cx="446" cy="922.5" r="3"/>
<circle cx="351" cy="915" r="5"/>
<circle cx="321" cy="922.5" r="3.5"/>
<circle cx="392.5" cy="919" r="3.5"/>
<circle cx="354" cy="937.5" r="4"/>
<circle cx="375" cy="938" r="5"/>
<circle cx="832.6" cy="863" r="3"/>
<circle cx="855" cy="847" r="3"/>
</g>
<linearGradient id="t2g" gradientUnits="userSpaceOnUse" x1="625" y1="0" x2="780" y2="0"><stop offset="0" stop-color="#fff" stop-opacity="0"/><stop offset="0.6" stop-color="#fff" stop-opacity="0.8"/><stop offset="1" stop-color="#fff" stop-opacity="1"/></linearGradient>
<clipPath id="t2c"><path d="M732.1,696.2 L735.4,696.1 L738.8,696.4 L742.2,697.1 L745.5,698.2 L748.8,699.7 L752.1,701.5 L755.2,703.7 L758.2,706.2 L761.1,709.1 L763.8,712.2 L766.4,715.6 L768.8,719.4 L771,723.3 L773,727.5 L774.7,731.8 L776.2,736.4 L777.5,741.1 L778.6,745.8 L779.3,750.7 L779.9,755.6 L780.1,760.6 L780.1,765.5 L779.8,770.4 L779.3,775.2 L778.5,779.9 L777.4,784.5 L776.1,788.9 L774.6,793.2 L772.8,797.2 L770.8,801 L768.6,804.6 L766.2,807.8 L763.6,810.8 L760.9,813.4 L758,815.7 L754.9,817.7 L751.8,819.3 L748.6,820.5 L745.3,821.3 L741.9,821.8 L326,897.6 L323.6,897.6 L321,897 L318.5,895.9 L315.9,894.4 L313.4,892.3 L310.9,889.7 L308.4,886.6 L306,883.1 L303.6,879.1 L301.4,874.7 L299.2,870 L297.2,864.8 L295.2,859.4 L293.4,853.6 L291.8,847.6 L290.3,841.4 L289,835 L287.9,828.5 L286.9,821.8 L286.2,815.1 L285.6,808.4 L285.2,801.7 L285,795.1 L285.1,788.5 L285.3,782.1 L285.7,775.9 L286.3,770 L287.1,764.2 L288.1,758.8 L289.3,753.7 L290.6,749 L292.2,744.6 L293.8,740.7 L295.7,737.2 L297.6,734.1 L299.7,731.6 L301.9,729.5 L304.2,728 L306.5,726.9 L309,726.4Z"/></clipPath>
<g clip-path="url(#t2c)">
<polygon points="300.5,727 795.5,691.7 808.4,693.2 309.7,729.7" fill="#87878b" stroke="#87878b" stroke-width="0.8"/>
<polygon points="309.7,729.7 808.4,693.2 813.7,695.2 313.6,733" fill="#8d8d91" stroke="#8d8d91" stroke-width="0.8"/>
<polygon points="313.6,733 813.7,695.2 817.7,697.4 316.6,736.3" fill="#939397" stroke="#939397" stroke-width="0.8"/>
<polygon points="316.6,736.3 817.7,697.4 820.9,699.7 319.1,739.6" fill="#98989c" stroke="#98989c" stroke-width="0.8"/>
<polygon points="319.1,739.6 820.9,699.7 823.7,701.9 321.3,743" fill="#9e9ea2" stroke="#9e9ea2" stroke-width="0.8"/>
<polygon points="321.3,743 823.7,701.9 826.1,704.3 323.2,746.5" fill="#a6a6aa" stroke="#a6a6aa" stroke-width="0.8"/>
<polygon points="323.2,746.5 826.1,704.3 828.3,706.6 325,749.9" fill="#aeaeb2" stroke="#aeaeb2" stroke-width="0.8"/>
<polygon points="598.3,723.4 826.1,704.3 828.3,706.6 600.3,726.2" fill="url(#t2g)" opacity="0.02"/>
<polygon points="325,749.9 828.3,706.6 830.2,708.9 326.6,753.4" fill="#b6b6ba" stroke="#b6b6ba" stroke-width="0.8"/>
<polygon points="600.3,726.2 828.3,706.6 830.2,708.9 602.1,729.1" fill="url(#t2g)" opacity="0.03"/>
<polygon points="326.6,753.4 830.2,708.9 832,711.3 328,756.9" fill="#bfbfc3" stroke="#bfbfc3" stroke-width="0.8"/>
<polygon points="602.1,729.1 830.2,708.9 832,711.3 603.7,731.9" fill="url(#t2g)" opacity="0.05"/>
<polygon points="328,756.9 832,711.3 833.6,713.6 329.4,760.3" fill="#c7c7cb" stroke="#c7c7cb" stroke-width="0.8"/>
<polygon points="603.7,731.9 832,711.3 833.6,713.6 605.2,734.8" fill="url(#t2g)" opacity="0.07"/>
<polygon points="329.4,760.3 833.6,713.6 835,716 330.6,763.8" fill="#d0d0d4" stroke="#d0d0d4" stroke-width="0.8"/>
<polygon points="605.2,734.8 833.6,713.6 835,716 606.5,737.7" fill="url(#t2g)" opacity="0.10"/>
<polygon points="330.6,763.8 835,716 836.3,718.4 331.7,767.3" fill="#d9d9dd" stroke="#d9d9dd" stroke-width="0.8"/>
<polygon points="606.5,737.7 835,716 836.3,718.4 607.8,740.6" fill="url(#t2g)" opacity="0.13"/>
<polygon points="331.7,767.3 836.3,718.4 837.5,720.8 332.8,770.9" fill="#e3e3e5" stroke="#e3e3e5" stroke-width="0.8"/>
<polygon points="607.8,740.6 836.3,718.4 837.5,720.8 608.9,743.5" fill="url(#t2g)" opacity="0.18"/>
<polygon points="332.8,770.9 837.5,720.8 838.6,723.2 333.8,774.4" fill="#ececee" stroke="#ececee" stroke-width="0.8"/>
<polygon points="608.9,743.5 837.5,720.8 838.6,723.2 609.9,746.4" fill="url(#t2g)" opacity="0.24"/>
<polygon points="333.8,774.4 838.6,723.2 839.6,725.6 334.7,777.9" fill="#f4f4f6" stroke="#f4f4f6" stroke-width="0.8"/>
<polygon points="609.9,746.4 838.6,723.2 839.6,725.6 610.9,749.3" fill="url(#t2g)" opacity="0.30"/>
<polygon points="334.7,777.9 839.6,725.6 840.5,728 335.6,781.4" fill="#f7f7f8" stroke="#f7f7f8" stroke-width="0.8"/>
<polygon points="610.9,749.3 839.6,725.6 840.5,728 611.8,752.2" fill="url(#t2g)" opacity="0.37"/>
<polygon points="335.6,781.4 840.5,728 841.3,730.5 336.4,785" fill="#f9f9fa" stroke="#f9f9fa" stroke-width="0.8"/>
<polygon points="611.8,752.2 840.5,728 841.3,730.5 612.6,755.2" fill="url(#t2g)" opacity="0.45"/>
<polygon points="336.4,785 841.3,730.5 842,732.9 337.1,788.5" fill="#fbfbfc" stroke="#fbfbfc" stroke-width="0.8"/>
<polygon points="612.6,755.2 841.3,730.5 842,732.9 613.3,758.1" fill="url(#t2g)" opacity="0.53"/>
<polygon points="337.1,788.5 842,732.9 842.6,735.3 337.7,792.1" fill="#fdfdfe" stroke="#fdfdfe" stroke-width="0.8"/>
<polygon points="613.3,758.1 842,732.9 842.6,735.3 613.9,761" fill="url(#t2g)" opacity="0.61"/>
<polygon points="337.7,792.1 842.6,735.3 843.2,737.8 338.4,795.6" fill="#ffffff" stroke="#ffffff" stroke-width="0.8"/>
<polygon points="613.9,761 842.6,735.3 843.2,737.8 614.5,764" fill="url(#t2g)" opacity="0.68"/>
<polygon points="338.4,795.6 843.2,737.8 843.6,740.2 338.9,799.2" fill="#fefefe" stroke="#fefefe" stroke-width="0.8"/>
<polygon points="614.5,764 843.2,737.8 843.6,740.2 615,767" fill="url(#t2g)" opacity="0.73"/>
<polygon points="338.9,799.2 843.6,740.2 844,742.7 339.4,802.8" fill="#fdfdfd" stroke="#fdfdfd" stroke-width="0.8"/>
<polygon points="615,767 843.6,740.2 844,742.7 615.4,769.9" fill="url(#t2g)" opacity="0.77"/>
<polygon points="339.4,802.8 844,742.7 844.3,745.2 339.8,806.4" fill="#fdfdfd" stroke="#fdfdfd" stroke-width="0.8"/>
<polygon points="615.4,769.9 844,742.7 844.3,745.2 615.8,772.9" fill="url(#t2g)" opacity="0.80"/>
<polygon points="339.8,806.4 844.3,745.2 844.5,747.6 340.2,809.9" fill="#fcfcfc" stroke="#fcfcfc" stroke-width="0.8"/>
<polygon points="615.8,772.9 844.3,745.2 844.5,747.6 616.1,775.9" fill="url(#t2g)" opacity="0.80"/>
<polygon points="340.2,809.9 844.5,747.6 844.7,750.1 340.6,813.5" fill="#fbfbfb" stroke="#fbfbfb" stroke-width="0.8"/>
<polygon points="616.1,775.9 844.5,747.6 844.7,750.1 616.3,778.8" fill="url(#t2g)" opacity="0.78"/>
<polygon points="340.6,813.5 844.7,750.1 844.7,752.6 340.8,817.1" fill="#fafafa" stroke="#fafafa" stroke-width="0.8"/>
<polygon points="616.3,778.8 844.7,750.1 844.7,752.6 616.5,781.8" fill="url(#t2g)" opacity="0.74"/>
<polygon points="340.8,817.1 844.7,752.6 844.7,755.1 341.1,820.7" fill="#f6f6f6" stroke="#f6f6f6" stroke-width="0.8"/>
<polygon points="616.5,781.8 844.7,752.6 844.7,755.1 616.6,784.8" fill="url(#t2g)" opacity="0.68"/>
<polygon points="341.1,820.7 844.7,755.1 844.6,757.6 341.2,824.3" fill="#f0f0f0" stroke="#f0f0f0" stroke-width="0.8"/>
<polygon points="616.6,784.8 844.7,755.1 844.6,757.6 616.6,787.8" fill="url(#t2g)" opacity="0.61"/>
<polygon points="341.2,824.3 844.6,757.6 844.5,760.1 341.3,827.9" fill="#e9e9ea" stroke="#e9e9ea" stroke-width="0.8"/>
<polygon points="616.6,787.8 844.6,757.6 844.5,760.1 616.5,790.8" fill="url(#t2g)" opacity="0.54"/>
<polygon points="341.3,827.9 844.5,760.1 844.2,762.6 341.4,831.5" fill="#e3e3e4" stroke="#e3e3e4" stroke-width="0.8"/>
<polygon points="616.5,790.8 844.5,760.1 844.2,762.6 616.4,793.8" fill="url(#t2g)" opacity="0.46"/>
<polygon points="341.4,831.5 844.2,762.6 843.9,765.1 341.4,835.2" fill="#ddddde" stroke="#ddddde" stroke-width="0.8"/>
<polygon points="616.4,793.8 844.2,762.6 843.9,765.1 616.2,796.8" fill="url(#t2g)" opacity="0.38"/>
<polygon points="341.4,835.2 843.9,765.1 843.4,767.6 341.3,838.8" fill="#d6d6d8" stroke="#d6d6d8" stroke-width="0.8"/>
<polygon points="616.2,796.8 843.9,765.1 843.4,767.6 616,799.9" fill="url(#t2g)" opacity="0.31"/>
<polygon points="341.3,838.8 843.4,767.6 842.9,770.2 341.2,842.4" fill="#cfcfd2" stroke="#cfcfd2" stroke-width="0.8"/>
<polygon points="616,799.9 843.4,767.6 842.9,770.2 615.6,802.9" fill="url(#t2g)" opacity="0.24"/>
<polygon points="341.2,842.4 842.9,770.2 842.3,772.7 341,846.1" fill="#c9c9cb" stroke="#c9c9cb" stroke-width="0.8"/>
<polygon points="615.6,802.9 842.9,770.2 842.3,772.7 615.2,805.9" fill="url(#t2g)" opacity="0.18"/>
<polygon points="341,846.1 842.3,772.7 841.6,775.2 340.7,849.7" fill="#c2c2c5" stroke="#c2c2c5" stroke-width="0.8"/>
<polygon points="615.2,805.9 842.3,772.7 841.6,775.2 614.7,809" fill="url(#t2g)" opacity="0.14"/>
<polygon points="340.7,849.7 841.6,775.2 840.7,777.8 340.4,853.4" fill="#bbbbbe" stroke="#bbbbbe" stroke-width="0.8"/>
<polygon points="614.7,809 841.6,775.2 840.7,777.8 614.1,812" fill="url(#t2g)" opacity="0.10"/>
<polygon points="340.4,853.4 840.7,777.8 839.8,780.4 339.9,857" fill="#b4b4b8" stroke="#b4b4b8" stroke-width="0.8"/>
<polygon points="614.1,812 840.7,777.8 839.8,780.4 613.4,815.1" fill="url(#t2g)" opacity="0.07"/>
<polygon points="339.9,857 839.8,780.4 838.7,782.9 339.4,860.7" fill="#aeaeb2" stroke="#aeaeb2" stroke-width="0.8"/>
<polygon points="613.4,815.1 839.8,780.4 838.7,782.9 612.5,818.2" fill="url(#t2g)" opacity="0.05"/>
<polygon points="339.4,860.7 838.7,782.9 837.5,785.5 338.8,864.4" fill="#a9a9ad" stroke="#a9a9ad" stroke-width="0.8"/>
<polygon points="612.5,818.2 838.7,782.9 837.5,785.5 611.6,821.2" fill="url(#t2g)" opacity="0.03"/>
<polygon points="338.8,864.4 837.5,785.5 836.1,788.1 338,868.1" fill="#a4a4a8" stroke="#a4a4a8" stroke-width="0.8"/>
<polygon points="611.6,821.2 837.5,785.5 836.1,788.1 610.5,824.3" fill="url(#t2g)" opacity="0.02"/>
<polygon points="338,868.1 836.1,788.1 834.5,790.7 337.2,871.8" fill="#9f9fa3" stroke="#9f9fa3" stroke-width="0.8"/>
<polygon points="337.2,871.8 834.5,790.7 832.7,793.3 336.1,875.5" fill="#9a9a9e" stroke="#9a9a9e" stroke-width="0.8"/>
<polygon points="336.1,875.5 832.7,793.3 830.7,796 334.9,879.3" fill="#959599" stroke="#959599" stroke-width="0.8"/>
<polygon points="334.9,879.3 830.7,796 828.2,798.7 333.5,883" fill="#929296" stroke="#929296" stroke-width="0.8"/>
<polygon points="333.5,883 828.2,798.7 825.4,801.4 331.7,886.8" fill="#909094" stroke="#909094" stroke-width="0.8"/>
<polygon points="331.7,886.8 825.4,801.4 821.8,804.1 329.4,890.7" fill="#8f8f93" stroke="#8f8f93" stroke-width="0.8"/>
<polygon points="329.4,890.7 821.8,804.1 816.9,807 326.3,894.6" fill="#8e8e92" stroke="#8e8e92" stroke-width="0.8"/>
<polygon points="326.3,894.6 816.9,807 804.3,810.4 317.7,899.1" fill="#9a9a9e" stroke="#9a9a9e" stroke-width="0.8"/>
<path d="M732.1,696.2 L736.6,696.2 L741.1,696.9 L745.5,698.2 L749.9,700.3 L754.2,702.9 L758.2,706.2 L762,710.1 L765.5,714.5 L768.8,719.4 L771.7,724.7 L774.2,730.4 L776.2,736.4 L777.9,742.6 L779.1,749.1 L779.9,755.6 L780.1,762.2 L780,768.8 L779.3,775.2 L778.2,781.5 L776.6,787.5 L774.6,793.2 L772.2,798.5 L769.4,803.4 L766.2,807.8 L762.7,811.7 L759,815 L754.9,817.7 L750.7,819.7 L746.4,821.1 L741.9,821.8" fill="none" stroke="#a0a0a6" stroke-width="9" opacity="0.55" filter="url(#soft4)"/>
<path d="M417.8,726.6 Q425,727.2 432.2,725.4" stroke="#3c3c42" stroke-width="3.2" stroke-linecap="round" fill="none" opacity="0.72"/>
<path d="M582.5,715.8 Q592.5,716.2 602.5,714.2" stroke="#3c3c42" stroke-width="3.4" stroke-linecap="round" fill="none" opacity="0.80"/>
<path d="M583,726.1 Q595,726.2 607,723.9" stroke="#222226" stroke-width="4.9" stroke-linecap="round" fill="none" opacity="1.00"/>
<path d="M585,729.5 Q595,729.5 605,727.4" stroke="#fff" stroke-width="1.4" stroke-linecap="round" fill="none" opacity="0.6"/>
<path d="M648.7,725.8 Q657.5,726.2 666.3,724.2" stroke="#222226" stroke-width="5.3" stroke-linecap="round" fill="none" opacity="1.00"/>
<path d="M650.7,729.5 Q657.5,729.6 664.3,727.8" stroke="#fff" stroke-width="1.4" stroke-linecap="round" fill="none" opacity="0.6"/>
<path d="M703,725.2 Q715,725.2 727,722.8" stroke="#222226" stroke-width="5.5" stroke-linecap="round" fill="none" opacity="1.00"/>
<path d="M705,728.9 Q715,728.8 725,726.6" stroke="#fff" stroke-width="1.4" stroke-linecap="round" fill="none" opacity="0.6"/>
<path d="M745.2,723.5 Q750,724.2 754.8,722.5" stroke="#3c3c42" stroke-width="4.5" stroke-linecap="round" fill="none" opacity="0.80"/>
<path d="M677.7,719.4 Q682.5,720.2 687.3,718.6" stroke="#3c3c42" stroke-width="3.5" stroke-linecap="round" fill="none" opacity="0.75"/>
<path d="M444.4,738 Q450,738.7 455.6,737" stroke="#3c3c42" stroke-width="3.9" stroke-linecap="round" fill="none" opacity="0.80"/>
<path d="M511.9,735.5 Q517.5,736.2 523.1,734.5" stroke="#3c3c42" stroke-width="4.1" stroke-linecap="round" fill="none" opacity="0.80"/>
<path d="M542,741.2 Q554,741.2 566,738.8" stroke="#222226" stroke-width="5.5" stroke-linecap="round" fill="none" opacity="1.00"/>
<path d="M544,744.9 Q554,744.8 564,742.6" stroke="#fff" stroke-width="1.4" stroke-linecap="round" fill="none" opacity="0.6"/>
<path d="M614.4,735.6 Q620,736.2 625.6,734.4" stroke="#3c3c42" stroke-width="5" stroke-linecap="round" fill="none" opacity="0.85"/>
<path d="M721,739.5 Q725,740.2 729,738.5" stroke="#3c3c42" stroke-width="5" stroke-linecap="round" fill="none" opacity="0.80"/>
<path d="M409.4,756.6 Q415,757.2 420.6,755.4" stroke="#3c3c42" stroke-width="5" stroke-linecap="round" fill="none" opacity="0.85"/>
<path d="M436,769.1 Q450,768.7 464,765.9" stroke="#222226" stroke-width="6.2" stroke-linecap="round" fill="none" opacity="1.00"/>
<path d="M438,773.1 Q450,772.6 462,770" stroke="#fff" stroke-width="1.4" stroke-linecap="round" fill="none" opacity="0.6"/>
<path d="M578.8,758.8 Q590,758.7 601.2,756.2" stroke="#222226" stroke-width="6.3" stroke-linecap="round" fill="none" opacity="1.00"/>
<path d="M580.8,763 Q590,762.7 599.2,760.4" stroke="#fff" stroke-width="1.4" stroke-linecap="round" fill="none" opacity="0.6"/>
<path d="M625,756.5 Q629,757.2 633,755.5" stroke="#3c3c42" stroke-width="5.8" stroke-linecap="round" fill="none" opacity="0.85"/>
<path d="M655,753.7 Q665,753.7 675,751.3" stroke="#222226" stroke-width="6.4" stroke-linecap="round" fill="none" opacity="0.95"/>
<path d="M695,750.5 Q699,751.2 703,749.5" stroke="#3c3c42" stroke-width="5.8" stroke-linecap="round" fill="none" opacity="0.85"/>
<path d="M728.7,753.6 Q737.5,753.7 746.3,751.4" stroke="#222226" stroke-width="6.6" stroke-linecap="round" fill="none" opacity="0.95"/>
<path d="M762.8,764.4 Q766,765.2 769.2,763.6" stroke="#3c3c42" stroke-width="5.9" stroke-linecap="round" fill="none" opacity="0.85"/>
<path d="M515.5,776.5 Q527.5,776.2 539.5,773.5" stroke="#222226" stroke-width="6.5" stroke-linecap="round" fill="none" opacity="0.95"/>
<path d="M565,781.5 Q569,782.2 573,780.5" stroke="#3c3c42" stroke-width="5.9" stroke-linecap="round" fill="none" opacity="0.85"/>
<path d="M615,780.4 Q625,780.2 635,777.6" stroke="#222226" stroke-width="6.6" stroke-linecap="round" fill="none" opacity="0.95"/>
<path d="M671.8,774.4 Q675,775.2 678.2,773.6" stroke="#3c3c42" stroke-width="5.2" stroke-linecap="round" fill="none" opacity="0.80"/>
<path d="M449.2,801.6 Q454,802.2 458.8,800.4" stroke="#222226" stroke-width="6.6" stroke-linecap="round" fill="none" opacity="0.90"/>
<path d="M607.5,800.5 Q617.5,800.2 627.5,797.5" stroke="#222226" stroke-width="6.1" stroke-linecap="round" fill="none" opacity="1.00"/>
<path d="M609.5,804.6 Q617.5,804.1 625.5,801.6" stroke="#fff" stroke-width="1.4" stroke-linecap="round" fill="none" opacity="0.6"/>
<path d="M664,797.5 Q674,797.2 684,794.5" stroke="#222226" stroke-width="5.9" stroke-linecap="round" fill="none" opacity="1.00"/>
<path d="M666,801.5 Q674,801 682,798.4" stroke="#fff" stroke-width="1.4" stroke-linecap="round" fill="none" opacity="0.6"/>
<path d="M718.7,795.4 Q727.5,795.2 736.3,792.6" stroke="#222226" stroke-width="5.6" stroke-linecap="round" fill="none" opacity="1.00"/>
<path d="M720.7,799.2 Q727.5,798.8 734.3,796.4" stroke="#fff" stroke-width="1.4" stroke-linecap="round" fill="none" opacity="0.6"/>
<path d="M755.2,791.8 Q760,792.2 764.8,790.2" stroke="#3c3c42" stroke-width="4.9" stroke-linecap="round" fill="none" opacity="0.85"/>
<path d="M531,816.6 Q535,817.2 539,815.4" stroke="#3c3c42" stroke-width="5.4" stroke-linecap="round" fill="none" opacity="0.85"/>
<path d="M554,821.9 Q566,821.2 578,818.1" stroke="#222226" stroke-width="5.6" stroke-linecap="round" fill="none" opacity="1.00"/>
<path d="M556,825.7 Q566,824.8 576,821.9" stroke="#fff" stroke-width="1.4" stroke-linecap="round" fill="none" opacity="0.6"/>
<path d="M630,811.6 Q634,812.2 638,810.4" stroke="#3c3c42" stroke-width="4.9" stroke-linecap="round" fill="none" opacity="0.85"/>
<path d="M720.2,809.8 Q725,810.2 729.8,808.2" stroke="#3c3c42" stroke-width="4.2" stroke-linecap="round" fill="none" opacity="0.85"/>
<path d="M465.2,821.7 Q470,822.2 474.8,820.3" stroke="#3c3c42" stroke-width="5.5" stroke-linecap="round" fill="none" opacity="0.85"/>
<path d="M396.9,836.9 Q402.5,837.2 408.1,835.1" stroke="#3c3c42" stroke-width="5.4" stroke-linecap="round" fill="none" opacity="0.85"/>
<path d="M417.7,846.8 Q422.5,847.2 427.3,845.2" stroke="#3c3c42" stroke-width="4.9" stroke-linecap="round" fill="none" opacity="0.85"/>
<path d="M440,856.4 Q454,855.2 468,851.6" stroke="#222226" stroke-width="4.8" stroke-linecap="round" fill="none" opacity="1.00"/>
<path d="M442,859.8 Q454,858.4 466,855" stroke="#fff" stroke-width="1.4" stroke-linecap="round" fill="none" opacity="0.6"/>
<path d="M577.5,835.7 Q587.5,835.2 597.5,832.3" stroke="#3c3c42" stroke-width="4.1" stroke-linecap="round" fill="none" opacity="0.85"/>
<path d="M509,854.3 Q519,853.7 529,850.7" stroke="#3c3c42" stroke-width="3.2" stroke-linecap="round" fill="none" opacity="0.72"/>
<path d="M651.2,825.5 Q660,825.2 668.8,822.5" stroke="#3c3c42" stroke-width="3.2" stroke-linecap="round" fill="none" opacity="0.72"/>
<path d="M621.8,831.6 Q625,832.2 628.2,830.4" stroke="#3c3c42" stroke-width="3.2" stroke-linecap="round" fill="none" opacity="0.75"/>
<path d="M753.5,810.7 Q757.5,811.2 761.5,809.3" stroke="#3c3c42" stroke-width="3.4" stroke-linecap="round" fill="none" opacity="0.80"/>
<path d="M345.2,737.9 Q350,738.7 354.8,737.1" stroke="#3c3c42" stroke-width="3.2" stroke-linecap="round" fill="none" opacity="0.72"/>
<path d="M360,748.8 Q374,748.7 388,746.2" stroke="#222226" stroke-width="5" stroke-linecap="round" fill="none" opacity="1.00"/>
<path d="M362,752.3 Q374,752 386,749.7" stroke="#fff" stroke-width="1.4" stroke-linecap="round" fill="none" opacity="0.6"/>
<path d="M406.9,755.6 Q412.5,756.2 418.1,754.4" stroke="#3c3c42" stroke-width="5" stroke-linecap="round" fill="none" opacity="0.85"/>
<path d="M432,767.9 Q436,768.7 440,767.1" stroke="#3c3c42" stroke-width="4.9" stroke-linecap="round" fill="none" opacity="0.80"/>
<path d="M376.1,785.8 Q382.5,786.2 388.9,784.2" stroke="#222226" stroke-width="6.4" stroke-linecap="round" fill="none" opacity="0.90"/>
<path d="M366.8,819 Q374,819.2 381.2,817" stroke="#222226" stroke-width="6.5" stroke-linecap="round" fill="none" opacity="1.00"/>
<path d="M368.8,823.3 Q374,823.3 379.2,821.3" stroke="#fff" stroke-width="1.4" stroke-linecap="round" fill="none" opacity="0.6"/>
<path d="M373.5,841.2 Q387.5,840.2 401.5,836.8" stroke="#222226" stroke-width="5.9" stroke-linecap="round" fill="none" opacity="1.00"/>
<path d="M375.5,845.1 Q387.5,844 399.5,840.8" stroke="#fff" stroke-width="1.4" stroke-linecap="round" fill="none" opacity="0.6"/>
<path d="M376.9,875 Q382.5,875.2 388.1,873" stroke="#3c3c42" stroke-width="3.5" stroke-linecap="round" fill="none" opacity="0.80"/>
<path d="M484.4,712.4 Q490,713.2 495.6,711.6" stroke="#3c3c42" stroke-width="3.2" stroke-linecap="round" fill="none" opacity="0.70"/>
<path d="M538.6,708.5 Q545,709.2 551.4,707.5" stroke="#3c3c42" stroke-width="3.2" stroke-linecap="round" fill="none" opacity="0.70"/>
<path d="M633.6,703.5 Q640,704.2 646.4,702.5" stroke="#3c3c42" stroke-width="3.2" stroke-linecap="round" fill="none" opacity="0.70"/>
<path d="M694.4,700.4 Q700,701.2 705.6,699.6" stroke="#3c3c42" stroke-width="3.2" stroke-linecap="round" fill="none" opacity="0.70"/>
<path d="M474.4,871 Q480,871.2 485.6,869" stroke="#3c3c42" stroke-width="3.2" stroke-linecap="round" fill="none" opacity="0.70"/>
<path d="M554.4,851 Q560,851.2 565.6,849" stroke="#3c3c42" stroke-width="3.2" stroke-linecap="round" fill="none" opacity="0.70"/>
<path d="M686,812.7 Q690,813.2 694,811.3" stroke="#3c3c42" stroke-width="3.4" stroke-linecap="round" fill="none" opacity="0.75"/>
</g>
<g transform="rotate(-5.7 317.5 812)">
<ellipse cx="317.5" cy="812" rx="31.5" ry="86" fill="#c4c4d6"/>
<ellipse cx="319.5" cy="812.5" rx="25.5" ry="79" fill="url(#o1)"/>
<line x1="314.0" y1="785" x2="330.0" y2="783" stroke="#f2f2f2" stroke-width="3.2" stroke-linecap="round"/>
<line x1="307.0" y1="801" x2="317.0" y2="799" stroke="#e8e8e8" stroke-width="3.2" stroke-linecap="round"/>
<line x1="309.0" y1="823" x2="323.0" y2="821" stroke="#fafafa" stroke-width="3.2" stroke-linecap="round"/>
<line x1="322.0" y1="839" x2="338.0" y2="837" stroke="#3a3a3e" stroke-width="3.2" stroke-linecap="round"/>
<line x1="316.0" y1="857" x2="328.0" y2="855" stroke="#444448" stroke-width="3.2" stroke-linecap="round"/>
<line x1="323.0" y1="771" x2="331.0" y2="769" stroke="#77777b" stroke-width="3.2" stroke-linecap="round"/>
<line x1="338.0" y1="813" x2="342.0" y2="811" stroke="#f6f6f6" stroke-width="3.2" stroke-linecap="round"/>
</g>
</g>
<g filter="url(#sl)" fill="#5e4029">
<path d="M336.2,656.7Q336.5,659.1 334.1,659.3Q331.7,659.6 329,660.4Q326.4,661.1 324.4,659.6Q322.4,658 323.4,655.5Q324.4,653.1 325.4,651.5Q326.4,649.9 328.9,648.7Q331.4,647.5 332.6,649.6Q333.8,651.7 334.9,653Q335.9,654.3 336.2,656.7Z"/>
<path d="M390.5,701.2Q391.5,706.1 385.3,708.4Q379.1,710.7 374.4,709.6Q369.7,708.6 365,704.5Q360.3,700.5 359.7,695.6Q359,690.8 364.3,690.4Q369.7,690 374.4,689.1Q379.2,688.1 383.5,687.8Q387.9,687.4 388.7,691.8Q389.5,696.2 390.5,701.2Z"/>
<path d="M480.3,667.8Q477.8,670.4 475.3,672.7Q472.7,675.1 469.1,672.9Q465.5,670.7 462.7,669.2Q459.9,667.7 459,664.5Q458.2,661.4 461.9,659.6Q465.7,657.8 470.2,657.1Q474.6,656.3 476.4,658Q478.2,659.7 480.5,662.5Q482.8,665.2 480.3,667.8Z"/>
<path d="M471.4,688.7Q470.2,692.4 465.9,692.6Q461.6,692.9 458.1,692.2Q454.5,691.5 453.8,689.6Q453,687.7 452.8,685.1Q452.5,682.6 453.5,680.1Q454.5,677.5 459.3,676.6Q464.2,675.7 465.5,677.9Q466.8,680.2 469.6,682.6Q472.5,685.1 471.4,688.7Z"/>
<path d="M557.4,678.2Q556,681.2 553.2,682.6Q550.4,684.1 546,683.1Q541.7,682.2 538.7,679.9Q535.7,677.5 537.1,675.3Q538.6,673.1 540.7,670.5Q542.9,668 546.3,668.1Q549.8,668.2 551.8,670.1Q553.8,672 556.3,673.6Q558.8,675.1 557.4,678.2Z"/>
<path d="M603.2,659.8Q601.7,662.5 599.2,663.3Q596.7,664 595,663.5Q593.3,663 591.1,661.5Q588.9,660 589,657.9Q589.2,655.7 590.8,654.1Q592.4,652.5 595.4,651.7Q598.4,650.9 600.2,652Q602,653.2 603.4,655.2Q604.7,657.1 603.2,659.8Z"/>
<path d="M654.4,649.2Q654.9,653.9 649.9,655.2Q644.9,656.6 641.4,655.2Q637.8,653.9 636.2,650.6Q634.6,647.3 633.3,643.1Q631.9,638.8 634.7,636.5Q637.5,634.3 642.2,633.2Q646.9,632.2 652.1,634Q657.2,635.7 655.5,640.1Q653.8,644.5 654.4,649.2Z"/>
<path d="M693.4,674.2Q691.1,675.7 688.7,676.9Q686.2,678.1 683.2,677.4Q680.2,676.7 678.1,675.6Q676.1,674.5 674.7,672.5Q673.2,670.5 675.7,668.3Q678.1,666.1 682.5,666.8Q686.9,667.5 690.3,668.1Q693.8,668.7 694.7,670.7Q695.6,672.7 693.4,674.2Z"/>
<path d="M758.7,637.7Q758,640 755.2,642Q752.5,644 749.9,643.1Q747.4,642.2 744.5,641Q741.5,639.8 741.1,636.6Q740.7,633.5 743.8,632.5Q746.9,631.6 749.6,630.2Q752.3,628.9 756,629.8Q759.7,630.8 759.6,633.1Q759.4,635.4 758.7,637.7Z"/>
<path d="M786.7,656.3Q784.3,658.7 780.4,661.8Q776.4,664.8 774.2,663.6Q771.9,662.4 768.8,659.3Q765.6,656.3 764.3,653.9Q763,651.5 766,648.4Q769,645.4 773.6,644.9Q778.3,644.4 781,647Q783.8,649.6 786.5,651.7Q789.2,653.9 786.7,656.3Z"/>
<path d="M461.5,894.6Q462.6,898.5 456.3,900.7Q450,902.9 445.1,901.4Q440.3,899.9 436.4,897Q432.5,894.2 432.6,890.1Q432.7,886 437.1,883.6Q441.6,881.3 445,881.7Q448.4,882 452.9,883.8Q457.5,885.6 459,888.1Q460.4,890.7 461.5,894.6Z"/>
<path d="M542.7,917.2Q542.1,921.3 536.6,926.4Q531.1,931.5 525.6,927.5Q520.1,923.5 517.9,920.4Q515.6,917.3 513.1,912.6Q510.6,907.9 514.9,904.4Q519.1,900.9 526.2,898Q533.2,895 538.2,897.3Q543.1,899.6 543.2,906.3Q543.3,913.1 542.7,917.2Z"/>
<path d="M580.5,930.6Q579.1,933.4 575.8,935.8Q572.4,938.1 569.3,937.1Q566.1,936 564.3,934.3Q562.5,932.7 561.1,929.4Q559.7,926.1 562.6,923.6Q565.5,921.1 568.9,921.8Q572.3,922.4 576.5,923.1Q580.7,923.8 581.3,925.8Q581.9,927.8 580.5,930.6Z"/>
<path d="M640,900.6Q637.2,904.1 634.8,904.8Q632.4,905.5 629.4,905.3Q626.3,905 622.5,903.7Q618.7,902.3 618.3,897Q617.9,891.7 620.8,890.2Q623.7,888.6 628.2,888.2Q632.6,887.8 636.3,887.9Q640,888 641.4,892.6Q642.8,897.2 640,900.6Z"/>
<path d="M660.8,873.6Q660.2,875 658.7,875.5Q657.2,876.1 655.6,876.1Q654,876.1 652.2,875.4Q650.3,874.7 650.3,873.1Q650.3,871.4 651.3,869.6Q652.2,867.9 654.7,868.1Q657.1,868.4 659.1,868.9Q661.1,869.4 661.3,870.8Q661.5,872.2 660.8,873.6Z"/>
<path d="M759.6,890.7Q759,895.8 751.9,897.2Q744.7,898.6 734.6,899.2Q724.5,899.8 724.1,894.6Q723.6,889.5 718.7,884.2Q713.8,878.9 722.7,875.9Q731.6,872.9 738.7,871.2Q745.8,869.5 754.1,871.9Q762.4,874.3 761.3,880Q760.2,885.7 759.6,890.7Z"/>
<path d="M714.6,923.3Q713.9,924.9 712.4,925.8Q710.9,926.7 709.5,926.5Q708,926.4 707.1,925.2Q706.2,923.9 704.8,922.1Q703.4,920.3 705.3,918.9Q707.2,917.6 709.6,916.9Q712,916.2 712.8,917.8Q713.7,919.3 714.5,920.5Q715.3,921.8 714.6,923.3Z"/>
<path d="M492.6,948.9Q492,950.7 489.9,951.4Q487.8,952 486,951.6Q484.2,951.1 481.8,949.8Q479.3,948.5 479.7,947Q480.2,945.5 481.8,943.8Q483.5,942 486.3,942.2Q489.1,942.3 490.2,943Q491.4,943.7 492.3,945.4Q493.2,947.1 492.6,948.9Z"/>
<path d="M401.7,959.1Q401.7,963.8 395.6,964.6Q389.5,965.4 385.3,967.2Q381.1,969 376.8,965.6Q372.4,962.1 373,956.7Q373.6,951.3 377.3,947.6Q381.1,944 385.7,944.2Q390.3,944.4 393.2,946.6Q396.2,948.9 399,951.7Q401.7,954.5 401.7,959.1Z"/>
<path d="M357.8,895.7Q357,896.5 355.5,897.3Q354.1,898.1 352.1,897.6Q350,897.1 348.6,896.3Q347.2,895.6 345.9,894.9Q344.6,894.3 347.4,893.6Q350.1,892.9 351.7,892.4Q353.2,891.9 355.6,892.6Q357.9,893.2 358.3,894.1Q358.6,895 357.8,895.7Z"/>
</g>
<g filter="url(#soft)">
<circle cx="381" cy="960.5" r="4.5" fill="#b9b9f6"/><circle cx="644" cy="657.5" r="3.5" fill="#e6e6fb"/>
<line x1="380" y1="739" x2="434.1" y2="643.4" stroke="#5c3819" stroke-width="3.3" /><polygon points="444,626 441.1,656.5 434.1,643.4 419.3,644.2" fill="#5c3819" />
<line x1="522.5" y1="727.5" x2="576.2" y2="632.4" stroke="#5c3819" stroke-width="3.3" /><polygon points="586,615 583.1,645.5 576.2,632.4 561.4,633.2" fill="#5c3819" />
<line x1="654" y1="724" x2="707.3" y2="627.5" stroke="#5c3819" stroke-width="3.3" /><polygon points="717,610 714.4,640.6 707.3,627.5 692.5,628.5" fill="#5c3819" />
<line x1="399" y1="801" x2="514" y2="828.4" stroke="#5c3819" stroke-width="3.3" /><polygon points="533.5,833 503.4,838.7 514,828.4 509.2,814.4" fill="#5c3819" />
<line x1="561" y1="789" x2="676" y2="815.9" stroke="#5c3819" stroke-width="3.3" /><polygon points="695.5,820.5 665.4,826.3 676,815.9 671.1,801.9" fill="#5c3819" />
<line x1="705" y1="770" x2="820.6" y2="799.1" stroke="#5c3819" stroke-width="3.3" /><polygon points="840,804 809.8,809.3 820.6,799.1 815.9,785" fill="#5c3819" />
<line x1="380" y1="872.5" x2="468.3" y2="941.7" stroke="#5c3819" stroke-width="3.3" /><polygon points="484,954 454.3,946.6 468.3,941.7 469.7,926.9" fill="#5c3819" />
<line x1="536" y1="860" x2="625.2" y2="928.8" stroke="#5c3819" stroke-width="3.3" /><polygon points="641,941 611.2,933.8 625.2,928.8 626.5,914" fill="#5c3819" />
<line x1="644" y1="842.5" x2="734.3" y2="913.6" stroke="#5c3819" stroke-width="3.3" /><polygon points="750,926 720.3,918.5 734.3,913.6 735.7,898.9" fill="#5c3819" />
<line x1="181" y1="783" x2="264.1" y2="777.5" stroke="#4444f4" stroke-width="4.5" /><polygon points="295,775.5 255.1,793.2 264.1,777.5 253.1,763.2" fill="#4444f4" />
<line x1="182.5" y1="826" x2="309.1" y2="816.8" stroke="#4444f4" stroke-width="4.5" /><polygon points="340,814.5 300.2,832.4 309.1,816.8 298,802.5" fill="#4444f4" />
<line x1="192.5" y1="868" x2="275.1" y2="860.4" stroke="#4444f4" stroke-width="4.5" /><polygon points="306,857.5 266.6,876.2 275.1,860.4 263.8,846.3" fill="#4444f4" />
<line x1="776.6" y1="890.6" x2="865" y2="961.5" stroke="#4444f4" stroke-width="1.5"/>
<line x1="835" y1="869" x2="865" y2="961.5" stroke="#4444f4" stroke-width="1.5"/>
</g>
<defs>
<linearGradient id="bodyg" gradientUnits="userSpaceOnUse" x1="1022" y1="0" x2="1428" y2="0">
<stop offset="0" stop-color="#4545a6"/><stop offset="0.035" stop-color="#3232a4"/><stop offset="0.12" stop-color="#2626a6"/><stop offset="0.35" stop-color="#2020a6"/><stop offset="0.7" stop-color="#2121a8"/><stop offset="0.86" stop-color="#2424ae"/><stop offset="0.93" stop-color="#3030aa"/><stop offset="1" stop-color="#4444a8"/></linearGradient>
<linearGradient id="capg" gradientUnits="userSpaceOnUse" x1="0" y1="185" x2="0" y2="275">
<stop offset="0" stop-color="#b4b4b4"/><stop offset="0.4" stop-color="#adadad"/><stop offset="1" stop-color="#a6a6a6"/></linearGradient>
<linearGradient id="capsh" gradientUnits="userSpaceOnUse" x1="1021" y1="0" x2="1428" y2="0">
<stop offset="0" stop-color="#fff" stop-opacity="0.25"/><stop offset="0.2" stop-color="#fff" stop-opacity="0.05"/><stop offset="0.6" stop-color="#000" stop-opacity="0"/><stop offset="0.85" stop-color="#fff" stop-opacity="0.12"/><stop offset="1" stop-color="#fff" stop-opacity="0.3"/></linearGradient>
<linearGradient id="baseg" gradientUnits="userSpaceOnUse" x1="0" y1="800" x2="0" y2="947">
<stop offset="0" stop-color="#a8a8a8"/><stop offset="0.55" stop-color="#aeaeae"/><stop offset="0.85" stop-color="#bcbcbc"/><stop offset="1" stop-color="#d0d0d0"/></linearGradient>
<linearGradient id="ringg" gradientUnits="userSpaceOnUse" x1="1090" y1="700" x2="1280" y2="800">
<stop offset="0" stop-color="#efefef"/><stop offset="0.5" stop-color="#e6e6e6"/><stop offset="1" stop-color="#d6d6d6"/></linearGradient>
<linearGradient id="wallg" gradientUnits="userSpaceOnUse" x1="1040" y1="0" x2="1100" y2="0">
<stop offset="0" stop-color="#2a2ab0"/><stop offset="0.3" stop-color="#5858c0"/><stop offset="1" stop-color="#8686cc"/></linearGradient>
<linearGradient id="panelg" gradientUnits="userSpaceOnUse" x1="1324" y1="0" x2="1420" y2="0">
<stop offset="0" stop-color="#2525b6"/><stop offset="0.5" stop-color="#2323ac"/><stop offset="1" stop-color="#2c2ca2"/></linearGradient>
</defs>
<g filter="url(#soft)">
<path d="M1056,785 Q1046,790 1044.6,806 L1045,866 C1050,905 1120,947 1224,947 C1328,947 1398,905 1402.5,866 L1403,800 Z" fill="url(#baseg)"/>
<clipPath id="bodyc"><path d="M1021.8,231 L1026.9,233.9 L1031.9,236.9 L1037,239.8 L1042.1,240.2 L1047.2,243.1 L1052.2,245.7 L1057.3,248 L1062.4,250.1 L1067.5,252 L1072.5,253.7 L1077.6,255.4 L1082.7,256.9 L1087.7,258.3 L1092.8,259.7 L1097.9,260.9 L1103,262.1 L1108,263.2 L1113.1,264.2 L1118.2,265.2 L1123.2,266.1 L1128.3,266.9 L1133.4,267.7 L1138.5,268.4 L1143.5,269.1 L1148.6,269.7 L1153.7,270.3 L1158.8,270.8 L1163.8,271.3 L1168.9,271.8 L1174,272.2 L1179,272.6 L1184.1,272.9 L1189.2,273.2 L1194.3,273.4 L1199.3,273.6 L1204.4,273.8 L1209.5,273.9 L1214.6,274 L1219.6,274.1 L1224.7,274.1 L1229.8,274.1 L1234.8,274 L1239.9,273.9 L1245,273.8 L1250.1,273.6 L1255.1,273.4 L1260.2,273.2 L1265.3,272.9 L1270.4,272.5 L1275.4,272.2 L1280.5,271.8 L1285.6,271.3 L1290.6,270.8 L1295.7,270.3 L1300.8,269.7 L1305.9,269 L1310.9,268.4 L1316,267.6 L1321.1,266.8 L1326.1,266 L1331.2,265.1 L1336.3,264.1 L1341.4,263.1 L1346.4,262 L1351.5,260.8 L1356.6,259.6 L1361.7,258.2 L1366.7,256.8 L1371.8,255.3 L1376.9,253.6 L1381.9,251.8 L1387,249.9 L1392.1,247.8 L1397.2,245.5 L1402.2,242.9 L1407.3,240 L1412.4,240.8 L1417.5,237.9 L1422.5,234.9 L1427.6,232 L1403,826 L1394,840.2 L1385.1,849.2 L1376.1,856 L1367.2,861.5 L1358.2,866.2 L1349.2,870.2 L1340.3,873.7 L1331.3,876.7 L1322.3,879.4 L1313.4,881.8 L1304.4,883.8 L1295.5,885.6 L1286.5,887.2 L1277.5,888.5 L1268.6,889.6 L1259.6,890.5 L1250.6,891.1 L1241.7,891.6 L1232.7,891.9 L1223.8,892 L1214.8,891.9 L1205.8,891.6 L1196.9,891.1 L1187.9,890.4 L1178.9,889.5 L1170,888.4 L1161,887.1 L1152,885.5 L1143.1,883.7 L1134.1,881.6 L1125.2,879.3 L1116.2,876.6 L1107.2,873.5 L1098.3,870 L1089.3,865.9 L1080.3,861.2 L1071.4,855.7 L1062.4,848.8 L1053.5,839.6 L1044.5,822.2Z"/></clipPath>
<path d="M1021.8,231 L1026.9,233.9 L1031.9,236.9 L1037,239.8 L1042.1,240.2 L1047.2,243.1 L1052.2,245.7 L1057.3,248 L1062.4,250.1 L1067.5,252 L1072.5,253.7 L1077.6,255.4 L1082.7,256.9 L1087.7,258.3 L1092.8,259.7 L1097.9,260.9 L1103,262.1 L1108,263.2 L1113.1,264.2 L1118.2,265.2 L1123.2,266.1 L1128.3,266.9 L1133.4,267.7 L1138.5,268.4 L1143.5,269.1 L1148.6,269.7 L1153.7,270.3 L1158.8,270.8 L1163.8,271.3 L1168.9,271.8 L1174,272.2 L1179,272.6 L1184.1,272.9 L1189.2,273.2 L1194.3,273.4 L1199.3,273.6 L1204.4,273.8 L1209.5,273.9 L1214.6,274 L1219.6,274.1 L1224.7,274.1 L1229.8,274.1 L1234.8,274 L1239.9,273.9 L1245,273.8 L1250.1,273.6 L1255.1,273.4 L1260.2,273.2 L1265.3,272.9 L1270.4,272.5 L1275.4,272.2 L1280.5,271.8 L1285.6,271.3 L1290.6,270.8 L1295.7,270.3 L1300.8,269.7 L1305.9,269 L1310.9,268.4 L1316,267.6 L1321.1,266.8 L1326.1,266 L1331.2,265.1 L1336.3,264.1 L1341.4,263.1 L1346.4,262 L1351.5,260.8 L1356.6,259.6 L1361.7,258.2 L1366.7,256.8 L1371.8,255.3 L1376.9,253.6 L1381.9,251.8 L1387,249.9 L1392.1,247.8 L1397.2,245.5 L1402.2,242.9 L1407.3,240 L1412.4,240.8 L1417.5,237.9 L1422.5,234.9 L1427.6,232 L1403,826 L1394,840.2 L1385.1,849.2 L1376.1,856 L1367.2,861.5 L1358.2,866.2 L1349.2,870.2 L1340.3,873.7 L1331.3,876.7 L1322.3,879.4 L1313.4,881.8 L1304.4,883.8 L1295.5,885.6 L1286.5,887.2 L1277.5,888.5 L1268.6,889.6 L1259.6,890.5 L1250.6,891.1 L1241.7,891.6 L1232.7,891.9 L1223.8,892 L1214.8,891.9 L1205.8,891.6 L1196.9,891.1 L1187.9,890.4 L1178.9,889.5 L1170,888.4 L1161,887.1 L1152,885.5 L1143.1,883.7 L1134.1,881.6 L1125.2,879.3 L1116.2,876.6 L1107.2,873.5 L1098.3,870 L1089.3,865.9 L1080.3,861.2 L1071.4,855.7 L1062.4,848.8 L1053.5,839.6 L1044.5,822.2Z" fill="url(#bodyg)"/>
<g clip-path="url(#bodyc)">
<path d="M1130,274 L1136.8,275.1 L1143.5,276 L1150.2,276.8 L1157,277.6 L1163.8,278.3 L1170.5,278.8 L1177.2,279.4 L1184,279.8 L1190.8,280.2 L1197.5,280.5 L1204.2,280.7 L1211,280.9 L1217.8,281 L1224.5,281 L1231.2,281 L1238,280.8 L1244.8,280.7 L1251.5,280.4 L1258.2,280.1 L1265,279.7 L1271.8,279.2 L1278.5,278.7 L1285.2,278.1 L1292,277.4 L1298.8,276.6 L1305.5,275.7 L1312.2,274.8 L1319,273.7 L1325.8,272.6 L1332.5,271.3 L1339.2,270 L1346,268.5 L1352.8,266.8 L1359.5,265.1 L1366.2,263.1 L1373,261 L1379.8,258.6 L1386.5,255.9 L1393.2,252.9 L1400,249.5" fill="none" stroke="#3d3de0" stroke-width="6" opacity="0.75" filter="url(#soft2)"/>
<path d="M1260,287 L1264.1,286.7 L1268.2,286.5 L1272.3,286.2 L1276.4,285.9 L1280.5,285.5 L1284.6,285.1 L1288.7,284.7 L1292.8,284.3 L1296.9,283.8 L1301,283.3 L1305.1,282.8 L1309.2,282.2 L1313.3,281.6 L1317.4,281 L1321.5,280.3 L1325.6,279.6 L1329.7,278.8 L1333.8,278 L1337.9,277.2 L1342,276.3 L1346.1,275.4 L1350.2,274.4 L1354.3,273.3 L1358.4,272.3 L1362.5,271.1 L1366.6,269.9 L1370.7,268.6 L1374.8,267.2 L1378.9,265.7 L1383,264.2 L1387.1,262.5 L1391.2,260.7 L1395.3,258.7 L1399.4,256.6 L1403.5,254.2 L1407.6,251.5 L1411.7,248.5 L1415.8,244.8 L1419.9,240 L1424,231.3" fill="none" stroke="#2c2cce" stroke-width="14" opacity="0.45" filter="url(#soft2)"/>
<path d="M1215,278.9 L1217.1,279 L1219.2,279 L1221.4,279 L1223.5,279 L1225.6,279 L1227.8,279 L1229.9,279 L1232,278.9 L1234.1,278.9 L1236.2,278.9 L1238.4,278.8 L1240.5,278.8 L1242.6,278.7 L1244.8,278.7 L1246.9,278.6 L1249,278.5 L1251.1,278.4 L1253.2,278.3 L1255.4,278.2 L1257.5,278.1 L1259.6,278 L1261.8,277.9 L1263.9,277.8 L1266,277.6 L1268.1,277.5 L1270.2,277.3 L1272.4,277.2 L1274.5,277 L1276.6,276.9 L1278.8,276.7 L1280.9,276.5 L1283,276.3 L1285.1,276.1 L1287.2,275.9 L1289.4,275.7 L1291.5,275.4 L1293.6,275.2 L1295.8,275 L1297.9,274.7 L1300,274.5" fill="none" stroke="#6a6af4" stroke-width="4" opacity="0.8" filter="url(#soft2)"/>
<path d="M1027,344.6 L1034.4,362.2 L1041.8,369.2 L1049.1,374.4 L1056.5,378.7 L1063.9,382.3 L1071.3,385.5 L1078.6,388.3 L1086,390.8 L1093.4,393.1 L1100.8,395.1 L1108.1,397 L1115.5,398.7 L1122.9,400.2 L1130.3,401.5 L1137.6,402.8 L1145,403.9 L1152.4,404.9 L1159.8,405.8 L1167.1,406.6 L1174.5,407.3 L1181.9,407.8 L1189.3,408.3 L1196.6,408.7 L1204,409 L1211.4,409.2 L1218.8,409.3 L1226.1,409.3 L1233.5,409.2 L1240.9,409 L1248.3,408.8 L1255.6,408.4 L1263,408 L1270.4,407.4 L1277.8,406.8 L1285.1,406 L1292.5,405.2 L1299.9,404.2 L1307.3,403.1 L1314.6,401.9 L1322,400.6" fill="none" stroke="#2626b4" stroke-width="25" opacity="0.45" filter="url(#soft2)"/>
<path d="M1026.6,333.5 L1034,350.9 L1041.4,357.9 L1048.8,363.1 L1056.2,367.4 L1063.5,371 L1070.9,374.1 L1078.3,376.9 L1085.7,379.4 L1093.1,381.7 L1100.5,383.7 L1107.8,385.5 L1115.2,387.2 L1122.6,388.7 L1130,390.1 L1137.4,391.3 L1144.8,392.4 L1152.2,393.4 L1159.5,394.3 L1166.9,395.1 L1174.3,395.8 L1181.7,396.3 L1189.1,396.8 L1196.5,397.2 L1203.8,397.5 L1211.2,397.7 L1218.6,397.8 L1226,397.8 L1233.4,397.7 L1240.8,397.6 L1248.2,397.3 L1255.5,396.9 L1262.9,396.5 L1270.3,396 L1277.7,395.3 L1285.1,394.6 L1292.5,393.7 L1299.8,392.8 L1307.2,391.7 L1314.6,390.5 L1322,389.2" fill="none" stroke="#15157a" stroke-width="2.6" opacity="0.8" filter="url(#soft2)"/>
<path d="M1027.4,355.8 L1034.8,373.4 L1042.2,380.5 L1049.5,385.8 L1056.9,390.1 L1064.3,393.7 L1071.6,396.9 L1079,399.7 L1086.3,402.2 L1093.7,404.5 L1101.1,406.6 L1108.4,408.4 L1115.8,410.1 L1123.2,411.6 L1130.5,413 L1137.9,414.3 L1145.3,415.4 L1152.6,416.4 L1160,417.3 L1167.4,418.1 L1174.7,418.8 L1182.1,419.3 L1189.4,419.8 L1196.8,420.2 L1204.2,420.5 L1211.5,420.7 L1218.9,420.8 L1226.3,420.8 L1233.6,420.7 L1241,420.5 L1248.4,420.3 L1255.7,419.9 L1263.1,419.5 L1270.5,418.9 L1277.8,418.3 L1285.2,417.5 L1292.5,416.6 L1299.9,415.7 L1307.3,414.6 L1314.6,413.4 L1322,412" fill="none" stroke="#3c3cea" stroke-width="5" opacity="0.95" filter="url(#soft2)"/>
<path d="M1150,416.6 L1153.5,417 L1157,417.4 L1160.5,417.8 L1164,418.2 L1167.5,418.6 L1171,418.9 L1174.5,419.2 L1178,419.5 L1181.5,419.8 L1185,420 L1188.5,420.3 L1192,420.5 L1195.5,420.6 L1199,420.8 L1202.5,420.9 L1206,421 L1209.5,421.1 L1213,421.2 L1216.5,421.3 L1220,421.3 L1223.5,421.3 L1227,421.3 L1230.5,421.3 L1234,421.2 L1237.5,421.1 L1241,421 L1244.5,420.9 L1248,420.8 L1251.5,420.6 L1255,420.5 L1258.5,420.3 L1262,420 L1265.5,419.8 L1269,419.5 L1272.5,419.2 L1276,418.9 L1279.5,418.6 L1283,418.2 L1286.5,417.9 L1290,417.5" fill="none" stroke="#7a7af8" stroke-width="2.4" opacity="0.8" filter="url(#soft2)"/>
<path d="M1031.6,469.9 L1038.8,488.5 L1046,495.9 L1053.2,501.5 L1060.5,506 L1067.7,509.8 L1074.9,513.2 L1082.1,516.2 L1089.3,518.8 L1096.5,521.2 L1103.7,523.4 L1110.9,525.3 L1118.1,527.1 L1125.3,528.7 L1132.6,530.2 L1139.8,531.5 L1147,532.7 L1154.2,533.7 L1161.4,534.7 L1168.6,535.5 L1175.8,536.2 L1183,536.8 L1190.2,537.3 L1197.4,537.7 L1204.6,538 L1211.9,538.2 L1219.1,538.3 L1226.3,538.3 L1233.5,538.3 L1240.7,538.1 L1247.9,537.8 L1255.1,537.4 L1262.3,536.9 L1269.5,536.4 L1276.7,535.7 L1284,534.9 L1291.2,534 L1298.4,532.9 L1305.6,531.8 L1312.8,530.5 L1320,529.1" fill="none" stroke="#2626b4" stroke-width="24.7" opacity="0.45" filter="url(#soft2)"/>
<path d="M1031.2,458.9 L1038.4,477.4 L1045.7,484.8 L1052.9,490.3 L1060.1,494.8 L1067.3,498.6 L1074.5,501.9 L1081.8,504.9 L1089,507.5 L1096.2,509.9 L1103.4,512.1 L1110.6,514 L1117.9,515.8 L1125.1,517.4 L1132.3,518.8 L1139.5,520.2 L1146.7,521.3 L1153.9,522.4 L1161.2,523.3 L1168.4,524.1 L1175.6,524.9 L1182.8,525.5 L1190,526 L1197.3,526.4 L1204.5,526.7 L1211.7,526.9 L1218.9,527 L1226.1,527 L1233.4,526.9 L1240.6,526.7 L1247.8,526.5 L1255,526.1 L1262.2,525.6 L1269.5,525 L1276.7,524.3 L1283.9,523.6 L1291.1,522.6 L1298.3,521.6 L1305.6,520.5 L1312.8,519.2 L1320,517.8" fill="none" stroke="#15157a" stroke-width="2.6" opacity="0.8" filter="url(#soft2)"/>
<path d="M1032,480.9 L1039.2,499.6 L1046.4,507.1 L1053.6,512.7 L1060.8,517.2 L1068,521.1 L1075.2,524.4 L1082.4,527.4 L1089.6,530.1 L1096.8,532.5 L1104,534.7 L1111.2,536.6 L1118.4,538.4 L1125.6,540 L1132.8,541.5 L1140,542.8 L1147.2,544 L1154.4,545.1 L1161.6,546 L1168.8,546.8 L1176,547.6 L1183.2,548.2 L1190.4,548.7 L1197.6,549.1 L1204.8,549.4 L1212,549.6 L1219.2,549.7 L1226.4,549.7 L1233.6,549.6 L1240.8,549.4 L1248,549.1 L1255.2,548.8 L1262.4,548.3 L1269.6,547.7 L1276.8,547 L1284,546.2 L1291.2,545.3 L1298.4,544.2 L1305.6,543.1 L1312.8,541.8 L1320,540.3" fill="none" stroke="#3c3cea" stroke-width="5" opacity="0.95" filter="url(#soft2)"/>
<path d="M1150,544.9 L1153.5,545.4 L1157,545.9 L1160.5,546.4 L1164,546.8 L1167.5,547.2 L1171,547.6 L1174.5,547.9 L1178,548.2 L1181.5,548.5 L1185,548.8 L1188.5,549 L1192,549.3 L1195.5,549.5 L1199,549.6 L1202.5,549.8 L1206,549.9 L1209.5,550 L1213,550.1 L1216.5,550.2 L1220,550.2 L1223.5,550.2 L1227,550.2 L1230.5,550.2 L1234,550.1 L1237.5,550 L1241,549.9 L1244.5,549.8 L1248,549.6 L1251.5,549.5 L1255,549.3 L1258.5,549 L1262,548.8 L1265.5,548.5 L1269,548.2 L1272.5,547.9 L1276,547.6 L1279.5,547.2 L1283,546.8 L1286.5,546.4 L1290,545.9" fill="none" stroke="#7a7af8" stroke-width="2.4" opacity="0.8" filter="url(#soft2)"/>
<path d="M1036.1,591.1 L1043.1,610.6 L1050.2,618.4 L1057.2,624.2 L1064.3,629 L1071.3,633 L1078.4,636.6 L1085.4,639.7 L1092.5,642.5 L1099.5,645 L1106.6,647.2 L1113.6,649.3 L1120.6,651.2 L1127.7,652.9 L1134.7,654.4 L1141.8,655.8 L1148.8,657 L1155.9,658.1 L1162.9,659.1 L1170,660 L1177,660.7 L1184.1,661.3 L1191.1,661.9 L1198.2,662.3 L1205.2,662.6 L1212.3,662.8 L1219.3,662.9 L1226.4,662.9 L1233.4,662.8 L1240.5,662.7 L1247.5,662.4 L1254.6,662 L1261.6,661.4 L1268.7,660.8 L1275.7,660.1 L1282.8,659.3 L1289.8,658.3 L1296.9,657.2 L1303.9,656 L1311,654.6 L1318,653.1" fill="none" stroke="#2626b4" stroke-width="23.9" opacity="0.45" filter="url(#soft2)"/>
<path d="M1035.7,580.4 L1042.7,599.9 L1049.8,607.6 L1056.9,613.4 L1063.9,618.2 L1071,622.2 L1078,625.7 L1085.1,628.8 L1092.1,631.6 L1099.2,634.1 L1106.3,636.3 L1113.3,638.4 L1120.4,640.3 L1127.4,641.9 L1134.5,643.5 L1141.5,644.8 L1148.6,646.1 L1155.7,647.2 L1162.7,648.2 L1169.8,649 L1176.8,649.8 L1183.9,650.4 L1191,650.9 L1198,651.3 L1205.1,651.7 L1212.1,651.9 L1219.2,652 L1226.2,652 L1233.3,651.9 L1240.4,651.7 L1247.4,651.4 L1254.5,651 L1261.5,650.5 L1268.6,649.9 L1275.7,649.2 L1282.7,648.3 L1289.8,647.4 L1296.8,646.3 L1303.9,645.1 L1310.9,643.8 L1318,642.3" fill="none" stroke="#15157a" stroke-width="2.6" opacity="0.8" filter="url(#soft2)"/>
<path d="M1036.5,601.7 L1043.5,621.4 L1050.5,629.2 L1057.6,635.1 L1064.6,639.8 L1071.7,643.9 L1078.7,647.4 L1085.7,650.6 L1092.8,653.4 L1099.8,655.9 L1106.8,658.2 L1113.9,660.2 L1120.9,662.1 L1128,663.8 L1135,665.3 L1142,666.7 L1149.1,667.9 L1156.1,669.1 L1163.2,670 L1170.2,670.9 L1177.2,671.7 L1184.3,672.3 L1191.3,672.8 L1198.3,673.2 L1205.4,673.6 L1212.4,673.8 L1219.5,673.9 L1226.5,673.9 L1233.5,673.8 L1240.6,673.6 L1247.6,673.3 L1254.7,672.9 L1261.7,672.4 L1268.7,671.8 L1275.8,671 L1282.8,670.2 L1289.8,669.2 L1296.9,668.1 L1303.9,666.9 L1311,665.5 L1318,664" fill="none" stroke="#3c3cea" stroke-width="5" opacity="0.95" filter="url(#soft2)"/>
<path d="M1150,668.6 L1153.5,669.2 L1157,669.7 L1160.5,670.2 L1164,670.7 L1167.5,671.1 L1171,671.5 L1174.5,671.9 L1178,672.2 L1181.5,672.6 L1185,672.9 L1188.5,673.1 L1192,673.4 L1195.5,673.6 L1199,673.8 L1202.5,673.9 L1206,674.1 L1209.5,674.2 L1213,674.3 L1216.5,674.4 L1220,674.4 L1223.5,674.4 L1227,674.4 L1230.5,674.3 L1234,674.3 L1237.5,674.2 L1241,674.1 L1244.5,673.9 L1248,673.8 L1251.5,673.6 L1255,673.4 L1258.5,673.1 L1262,672.8 L1265.5,672.6 L1269,672.2 L1272.5,671.9 L1276,671.5 L1279.5,671.1 L1283,670.6 L1286.5,670.2 L1290,669.7" fill="none" stroke="#7a7af8" stroke-width="2.4" opacity="0.8" filter="url(#soft2)"/>
<path d="M1040.4,708.1 L1047.3,728.5 L1054.2,736.7 L1061.2,742.8 L1068.1,747.7 L1075.1,752 L1082,755.6 L1088.9,758.9 L1095.9,761.8 L1102.8,764.4 L1109.8,766.8 L1116.7,769 L1123.7,770.9 L1130.6,772.7 L1137.5,774.2 L1144.5,775.7 L1151.4,777 L1158.4,778.1 L1165.3,779.1 L1172.2,780 L1179.2,780.8 L1186.1,781.4 L1193.1,782 L1200,782.4 L1206.9,782.7 L1213.9,782.9 L1220.8,783 L1227.8,783 L1234.7,782.9 L1241.6,782.6 L1248.6,782.3 L1255.5,781.8 L1262.5,781.3 L1269.4,780.6 L1276.4,779.8 L1283.3,778.9 L1290.2,777.8 L1297.2,776.6 L1304.1,775.3 L1311.1,773.8 L1318,772.2" fill="none" stroke="#2626b4" stroke-width="16" opacity="0.45" filter="url(#soft2)"/>
<path d="M1040.1,701.2 L1047.1,721.6 L1054,729.8 L1061,735.9 L1067.9,740.8 L1074.8,745 L1081.8,748.7 L1088.7,752 L1095.7,754.9 L1102.6,757.5 L1109.6,759.8 L1116.5,762 L1123.5,763.9 L1130.4,765.7 L1137.4,767.3 L1144.3,768.7 L1151.3,770 L1158.2,771.1 L1165.2,772.1 L1172.1,773 L1179.1,773.8 L1186,774.4 L1192.9,775 L1199.9,775.4 L1206.8,775.7 L1213.8,775.9 L1220.7,776 L1227.7,776 L1234.6,775.9 L1241.6,775.6 L1248.5,775.3 L1255.5,774.8 L1262.4,774.3 L1269.4,773.6 L1276.3,772.8 L1283.3,771.9 L1290.2,770.9 L1297.2,769.7 L1304.1,768.4 L1311.1,766.9 L1318,765.3" fill="none" stroke="#15157a" stroke-width="2.6" opacity="0.8" filter="url(#soft2)"/>
<path d="M1040.6,714.9 L1047.5,735.4 L1054.5,743.6 L1061.4,749.7 L1068.4,754.7 L1075.3,758.9 L1082.2,762.6 L1089.2,765.9 L1096.1,768.8 L1103,771.4 L1110,773.8 L1116.9,775.9 L1123.8,777.9 L1130.8,779.6 L1137.7,781.2 L1144.6,782.7 L1151.6,784 L1158.5,785.1 L1165.4,786.1 L1172.4,787 L1179.3,787.8 L1186.2,788.4 L1193.2,789 L1200.1,789.4 L1207,789.7 L1214,789.9 L1220.9,790 L1227.8,790 L1234.8,789.9 L1241.7,789.6 L1248.7,789.3 L1255.6,788.8 L1262.5,788.3 L1269.5,787.6 L1276.4,786.8 L1283.3,785.8 L1290.3,784.8 L1297.2,783.6 L1304.1,782.3 L1311.1,780.8 L1318,779.2" fill="none" stroke="#3c3cea" stroke-width="5" opacity="0.95" filter="url(#soft2)"/>
<path d="M1150,784.2 L1153.5,784.8 L1157,785.4 L1160.5,785.9 L1164,786.4 L1167.5,786.9 L1171,787.3 L1174.5,787.8 L1178,788.1 L1181.5,788.5 L1185,788.8 L1188.5,789.1 L1192,789.4 L1195.5,789.6 L1199,789.8 L1202.5,790 L1206,790.2 L1209.5,790.3 L1213,790.4 L1216.5,790.4 L1220,790.5 L1223.5,790.5 L1227,790.5 L1230.5,790.4 L1234,790.4 L1237.5,790.3 L1241,790.2 L1244.5,790 L1248,789.8 L1251.5,789.6 L1255,789.4 L1258.5,789.1 L1262,788.8 L1265.5,788.5 L1269,788.1 L1272.5,787.7 L1276,787.3 L1279.5,786.9 L1283,786.4 L1286.5,785.9 L1290,785.3" fill="none" stroke="#7a7af8" stroke-width="2.4" opacity="0.8" filter="url(#soft2)"/>
<path d="M1326,371.7 L1332.2,370.5 L1338.3,369.1 L1344.5,367.6 L1350.7,366 L1356.8,364.3 L1363,362.4 L1369.2,360.3 L1375.3,358 L1381.5,355.5 L1387.7,352.7 L1393.8,349.5 L1400,345.9 L1394,767.4 L1388,773.4 L1382,778.3 L1376,782.4 L1370,786 L1364,789.3 L1358,792.2 L1352,794.8 L1346,797.2 L1340,799.4 L1334,801.4 L1328,803.2 L1322,804.9Z" fill="url(#panelg)"/>
<path d="M1404,225 L1432,225 L1410,860 L1390,860Z" fill="#4a4aa8" opacity="0.25" filter="url(#soft2)"/>
<path d="M1325,373.7 L1321,804.9" stroke="#16168a" stroke-width="4" opacity="0.6" fill="none" filter="url(#soft2)"/>
<path d="M1335,375.7 L1331,800.9" stroke="#3030d4" stroke-width="6" opacity="0.75" fill="none" filter="url(#soft2)"/>
<path d="M1346,379.7 L1342,794.9" stroke="#1c1c98" stroke-width="3" opacity="0.55" fill="none" filter="url(#soft2)"/>
<path d="M1330,373.9 L1337,372.4 L1344,370.7 L1351,368.9 L1358,366.9 L1365,364.7 L1372,362.2 L1379,359.5 L1386,356.4 L1393,352.9 L1400,348.8" fill="none" stroke="#3a3af0" stroke-width="5" opacity="0.9" filter="url(#soft2)"/>
<path d="M1326,366.8 L1333.4,365.3 L1340.8,363.6 L1348.2,361.8 L1355.6,359.7 L1363,357.5 L1370.4,355 L1377.8,352.2 L1385.2,349 L1392.6,345.4 L1400,341.1" fill="none" stroke="#14147a" stroke-width="3" opacity="0.8" filter="url(#soft2)"/>
<circle cx="1338.5" cy="366" r="3" fill="#c8c8ff" filter="url(#soft2)"/>
<path d="M1324,800.4 L1331,798.3 L1338,796.1 L1345,793.6 L1352,790.9 L1359,787.8 L1366,784.3 L1373,780.4 L1380,775.9 L1387,770.4 L1394,763.6" fill="none" stroke="#3232ea" stroke-width="6" opacity="0.9" filter="url(#soft2)"/>
<path d="M1330,791.7 L1336,789.9 L1342,787.8 L1348,785.6 L1354,783.1 L1360,780.5 L1366,777.5 L1372,774.2 L1378,770.5 L1384,766.2 L1390,761.1" fill="none" stroke="#15157c" stroke-width="2.5" opacity="0.6" filter="url(#soft2)"/>
<path d="M1397,366 L1392,765.4" stroke="#3232d8" stroke-width="5" opacity="0.8" fill="none" filter="url(#soft2)"/>
<path d="M1404,366 L1399,761.4" stroke="#17178a" stroke-width="3" opacity="0.55" fill="none" filter="url(#soft2)"/>
<path d="M1398,387 Q1412,381 1422,365" stroke="#3a3ae6" stroke-width="5" fill="none" opacity="0.9" filter="url(#soft2)"/>
<path d="M1398,378 Q1412,372 1422,356" stroke="#15157a" stroke-width="3" fill="none" opacity="0.7" filter="url(#soft2)"/>
<path d="M1398,513 Q1412,507 1422,491" stroke="#3a3ae6" stroke-width="5" fill="none" opacity="0.9" filter="url(#soft2)"/>
<path d="M1398,504 Q1412,498 1422,482" stroke="#15157a" stroke-width="3" fill="none" opacity="0.7" filter="url(#soft2)"/>
<path d="M1398,635 Q1412,629 1422,613" stroke="#3a3ae6" stroke-width="5" fill="none" opacity="0.9" filter="url(#soft2)"/>
<path d="M1398,626 Q1412,620 1422,604" stroke="#15157a" stroke-width="3" fill="none" opacity="0.7" filter="url(#soft2)"/>
<path d="M1398,755 Q1412,749 1422,733" stroke="#3a3ae6" stroke-width="5" fill="none" opacity="0.9" filter="url(#soft2)"/>
<path d="M1398,746 Q1412,740 1422,724" stroke="#15157a" stroke-width="3" fill="none" opacity="0.7" filter="url(#soft2)"/>
<g transform="translate(1352,418) rotate(90)"><text x="0" y="0" font-family="Liberation Sans, Arial, sans-serif" font-weight="bold" font-size="54" textLength="305" lengthAdjust="spacingAndGlyphs" fill="#2424b2" stroke="#3636dc" stroke-width="2.4" opacity="0.8">C-MEM</text><text x="1.5" y="-2" font-family="Liberation Sans, Arial, sans-serif" font-weight="bold" font-size="54" textLength="305" lengthAdjust="spacingAndGlyphs" fill="none" stroke="#15157e" stroke-width="1.2" opacity="0.7">C-MEM</text></g>
</g>
<ellipse cx="1026" cy="358" rx="4.5" ry="7" fill="#fff" filter="url(#soft2)"/>
<ellipse cx="1030.6" cy="484" rx="4.5" ry="7" fill="#fff" filter="url(#soft2)"/>
<ellipse cx="1035" cy="603" rx="4.5" ry="7" fill="#fff" filter="url(#soft2)"/>
<path d="M1028,655 L1038,657 L1040,672 L1050,690 L1058,715 L1059.5,735 L1057,757 L1052,780 L1049,795 L1040,800 L1028,800Z" fill="#fff"/>
<clipPath id="cutc"><path d="M1038,657 L1060,663 L1072,678 L1103,684 L1280,777.5 L1284.5,786 Q1296,821 1290,856.5 Q1283,878 1270,895 L1224,900 Q1100,905 1040,840 L1040,800 L1049,795 L1052,780 L1057,757 L1059.5,735 L1058,715 L1050,690 L1040,672 Z"/></clipPath>
<g clip-path="url(#cutc)">
<path d="M1040,650 L1300,650 L1300,800 L1040,800Z" fill="#ececec"/>
<path d="M1056,785 Q1046,790 1044.6,806 L1045,866 C1050,905 1120,947 1224,947 L1300,947 L1300,786 Z" fill="url(#baseg)"/>
<ellipse cx="1224" cy="814" rx="180" ry="78" fill="#dcdcdc"/>
<ellipse cx="1226" cy="812" rx="166" ry="71" fill="#adadad"/>
<ellipse cx="1232" cy="813" rx="158" ry="69" fill="#d8d8d8"/>
<ellipse cx="1238" cy="814" rx="153" ry="66" fill="#efefef"/>
<ellipse cx="1126.5" cy="836" rx="13" ry="6.5" fill="#cdcdcd"/>
<ellipse cx="1197" cy="868" rx="14" ry="6" fill="#cdcdcd"/>
<ellipse cx="1094" cy="806" rx="3" ry="1.8" fill="#d2d2d2"/>
<ellipse cx="1100" cy="820" rx="3" ry="1.8" fill="#d2d2d2"/>
<ellipse cx="1108" cy="800" rx="3" ry="1.8" fill="#d2d2d2"/>
<ellipse cx="1112" cy="832" rx="3" ry="1.8" fill="#d2d2d2"/>
<ellipse cx="1163" cy="858" rx="3" ry="1.8" fill="#d2d2d2"/>
<ellipse cx="1172" cy="864" rx="3" ry="1.8" fill="#d2d2d2"/>
<ellipse cx="1225" cy="864" rx="3" ry="1.8" fill="#d2d2d2"/>
<ellipse cx="1240" cy="866" rx="3" ry="1.8" fill="#d2d2d2"/>
<ellipse cx="1256" cy="864" rx="3" ry="1.8" fill="#d2d2d2"/>
<ellipse cx="1272" cy="860" rx="3" ry="1.8" fill="#d2d2d2"/>
<ellipse cx="1284" cy="852" rx="3" ry="1.8" fill="#d2d2d2"/>
<ellipse cx="1148" cy="848" rx="3" ry="1.8" fill="#d2d2d2"/>
<ellipse cx="1222" cy="832" rx="59" ry="22" fill="#505052"/>
<path d="M1194,806 L1290,800 L1290,846 Q1250,862 1194,852 Z" fill="#0b0b0b"/>
<ellipse cx="1228" cy="812" rx="36" ry="10" fill="#222224"/>
<path d="M1192,818 Q1206,804 1236,808" stroke="#c4c4c4" stroke-width="2.2" fill="none"/>
<path d="M1200,824 Q1214,812 1240,816" stroke="#3c3c3e" stroke-width="2" fill="none"/>
<path d="M1262,834 Q1282,836 1300,822 L1300,852 L1262,848Z" fill="#e6e6e6"/>
<path d="M1264,846 Q1280,846 1294,838" stroke="#1a1a1a" stroke-width="3" fill="none"/>
<rect x="1116.3" y="795" width="9" height="21" fill="#d4d4d4"/>
<rect x="1137" y="797" width="25" height="67" fill="#d6d6d6"/><rect x="1150" y="797" width="12" height="58" fill="#c2c2c2"/><rect x="1137" y="797" width="4" height="67" fill="#e4e4e4"/>
<rect x="1245" y="788" width="19" height="83" fill="#cdcdcd"/><rect x="1245" y="788" width="7" height="83" fill="#dadada"/>
<rect x="1104" y="680" width="11" height="70" fill="#e2e2e2"/>
<rect x="1115" y="680" width="9" height="70" fill="#c9c9c9"/>
<rect x="1124" y="680" width="8" height="70" fill="#eeeeee"/>
<rect x="1132" y="680" width="11" height="70" fill="#cfcfcf"/>
<rect x="1143" y="680" width="9" height="70" fill="#ececec"/>
<rect x="1152" y="680" width="10" height="70" fill="#c6c6c6"/>
<rect x="1162" y="680" width="14" height="70" fill="#e9e9e9"/>
<rect x="1176" y="680" width="14" height="70" fill="#dadada"/>
<path d="M1090,713 L1090.9,727.8 L1093,757 Q1096,768 1110.5,777.5 Q1128,785 1147,790.7 Q1162,794 1176.3,796.5 Q1190,798.4 1205.5,798.6 Q1220,798.4 1234.8,796.5 Q1250,794 1264,789.2 L1278.7,782.8 L1286,780 L1272.8,773.1 L1186,728 L1150,725 L1100,700Z" fill="url(#ringg)"/>
<path d="M1090,713 Q1092,700 1100,693 Q1105,688 1110.6,688 Q1106,697 1107.7,705.8 Q1109,713 1113.6,719 Q1120,724 1131,726 Q1141,728 1151.6,728.5 L1169,726 L1197,741 Q1175,737 1151.6,738.5 Q1135,738 1122,735 Q1110,732 1102,727.7 Q1094,722 1090,713Z" fill="#f6f6f6"/>
<path d="M1110.6,688 Q1106,697 1107.7,705.8 Q1109,713 1113.6,719 Q1120,724 1131,726 Q1141,728 1151.6,728.5 L1169,726" stroke="#c9c9c9" stroke-width="1.8" fill="none"/>
<path d="M1091,716 Q1095,724 1102,729.7 Q1110,734 1122,737 Q1135,740 1151.6,740.5 Q1175,739 1199,743" stroke="#d4d4d4" stroke-width="3" fill="none" filter="url(#soft2)"/>
<path d="M1110.5,779.5 Q1128,787 1147,792.7 Q1176,799.5 1205.5,800.6 Q1250,798 1282,783" stroke="#b4b4b4" stroke-width="3" fill="none" filter="url(#soft2)"/>
<path d="M1034,652 L1062,658 L1074,673 L1108,680 L1100,698 L1091,710 L1092,740 L1088,760 L1070,777 L1053,787 L1049,795 L1052,780 L1057,757 L1059.5,735 L1058,715 L1050,690 L1040,672Z" fill="url(#wallg)"/>
<path d="M1034,652 L1062,658 L1074,673 L1106,680 L1096,693 L1070,689 L1056,675 L1041,672Z" fill="#181890"/>
<path d="M1050,690 L1058,715 L1059.5,735 L1057,757 L1052,780 L1049,795 L1058,786 Q1068,740 1062,700Z" fill="#2222b6"/>
<path d="M1042,676.5 L1056,677 L1065,682.5 L1058,686 L1052,683 L1043,681Z" fill="#f4f4fa"/>
<path d="M1074,690 L1084,694 L1076,712 L1068,706Z" fill="#2c2cc0"/><path d="M1088,696 L1096,700 L1090,712 L1082,708Z" fill="#3434c4"/>
</g>
<path d="M1021,160 1021.8,231 L1026.9,233.9 L1031.9,236.9 L1037,239.8 L1042.1,240.2 L1047.2,243.1 L1052.2,245.7 L1057.3,248 L1062.4,250.1 L1067.5,252 L1072.5,253.7 L1077.6,255.4 L1082.7,256.9 L1087.7,258.3 L1092.8,259.7 L1097.9,260.9 L1103,262.1 L1108,263.2 L1113.1,264.2 L1118.2,265.2 L1123.2,266.1 L1128.3,266.9 L1133.4,267.7 L1138.5,268.4 L1143.5,269.1 L1148.6,269.7 L1153.7,270.3 L1158.8,270.8 L1163.8,271.3 L1168.9,271.8 L1174,272.2 L1179,272.6 L1184.1,272.9 L1189.2,273.2 L1194.3,273.4 L1199.3,273.6 L1204.4,273.8 L1209.5,273.9 L1214.6,274 L1219.6,274.1 L1224.7,274.1 L1229.8,274.1 L1234.8,274 L1239.9,273.9 L1245,273.8 L1250.1,273.6 L1255.1,273.4 L1260.2,273.2 L1265.3,272.9 L1270.4,272.5 L1275.4,272.2 L1280.5,271.8 L1285.6,271.3 L1290.6,270.8 L1295.7,270.3 L1300.8,269.7 L1305.9,269 L1310.9,268.4 L1316,267.6 L1321.1,266.8 L1326.1,266 L1331.2,265.1 L1336.3,264.1 L1341.4,263.1 L1346.4,262 L1351.5,260.8 L1356.6,259.6 L1361.7,258.2 L1366.7,256.8 L1371.8,255.3 L1376.9,253.6 L1381.9,251.8 L1387,249.9 L1392.1,247.8 L1397.2,245.5 L1402.2,242.9 L1407.3,240 L1412.4,240.8 L1417.5,237.9 L1422.5,234.9 L1427.6,232 L1428,160 Z" fill="url(#capg)"/>
<path d="M1021,160 1021.8,231 L1026.9,233.9 L1031.9,236.9 L1037,239.8 L1042.1,240.2 L1047.2,243.1 L1052.2,245.7 L1057.3,248 L1062.4,250.1 L1067.5,252 L1072.5,253.7 L1077.6,255.4 L1082.7,256.9 L1087.7,258.3 L1092.8,259.7 L1097.9,260.9 L1103,262.1 L1108,263.2 L1113.1,264.2 L1118.2,265.2 L1123.2,266.1 L1128.3,266.9 L1133.4,267.7 L1138.5,268.4 L1143.5,269.1 L1148.6,269.7 L1153.7,270.3 L1158.8,270.8 L1163.8,271.3 L1168.9,271.8 L1174,272.2 L1179,272.6 L1184.1,272.9 L1189.2,273.2 L1194.3,273.4 L1199.3,273.6 L1204.4,273.8 L1209.5,273.9 L1214.6,274 L1219.6,274.1 L1224.7,274.1 L1229.8,274.1 L1234.8,274 L1239.9,273.9 L1245,273.8 L1250.1,273.6 L1255.1,273.4 L1260.2,273.2 L1265.3,272.9 L1270.4,272.5 L1275.4,272.2 L1280.5,271.8 L1285.6,271.3 L1290.6,270.8 L1295.7,270.3 L1300.8,269.7 L1305.9,269 L1310.9,268.4 L1316,267.6 L1321.1,266.8 L1326.1,266 L1331.2,265.1 L1336.3,264.1 L1341.4,263.1 L1346.4,262 L1351.5,260.8 L1356.6,259.6 L1361.7,258.2 L1366.7,256.8 L1371.8,255.3 L1376.9,253.6 L1381.9,251.8 L1387,249.9 L1392.1,247.8 L1397.2,245.5 L1402.2,242.9 L1407.3,240 L1412.4,240.8 L1417.5,237.9 L1422.5,234.9 L1427.6,232 L1428,160 Z" fill="url(#capsh)"/>
<ellipse cx="1224.5" cy="172" rx="203.5" ry="45" fill="#bcbcbc" filter="url(#soft2)"/>
<ellipse cx="1224.5" cy="166" rx="203.5" ry="44" fill="#d2d2d2" filter="url(#soft2)"/>
<ellipse cx="1224.5" cy="159" rx="203.5" ry="44" fill="#d8d8d8"/>
<ellipse cx="1224.5" cy="156" rx="197" ry="40" fill="#cbcbcb" filter="url(#soft2)"/>
<ellipse cx="1224.5" cy="151" rx="178" ry="33" fill="#c3c3c3" filter="url(#soft2)"/>
<g filter="url(#soft2)">
<path d="M1068,150 Q1100,128 1168,120 L1160,146 Q1112,148 1086,160Z" fill="#b2b2b2"/>
<path d="M1290,122 Q1352,130 1388,150 L1376,158 Q1340,144 1296,142Z" fill="#b6b6b6"/>
<path d="M1090,140 Q1122,128 1150,128 L1146,142 Q1118,143 1098,150Z" fill="#dedede"/>
<path d="M1296,130 Q1334,134 1362,146 L1356,153 Q1328,142 1298,140Z" fill="#dcdcdc"/>
<path d="M1128,132 Q1170,118 1224,116 Q1280,118 1320,130 L1300,150 L1150,150Z" fill="#adadad"/>
<path d="M1282,150 L1300,138 L1322,146 L1318,168 L1290,166Z" fill="#d0d0d0"/>
</g>
<rect x="1086" y="166" width="24" height="8" rx="2" fill="#b4b4b4" transform="rotate(12 1098 170)"/>
<rect x="1252" y="174" width="34" height="12" rx="2" fill="#b6b6b6"/><rect x="1254" y="175.5" width="30" height="5" fill="#d4d4d4"/>
<rect x="1382" y="150" width="14" height="6" fill="#e0e0e0" transform="rotate(20 1389 153)"/>
<path d="M1144.5,150 L1163,131 L1281,131 L1294,146 L1282,163 L1240,165 L1230,157 L1206,154 L1198,165 L1166,165 Z" fill="#161618"/>
<path d="M1197,166 L1206,153 L1231,156 L1241,166 Q1220,170 1197,166Z" fill="#6c6c6e"/>
<path d="M1150,150 Q1170,140 1200,142" stroke="#2e2e32" stroke-width="3" fill="none" filter="url(#soft2)"/>
<path d="M1172,110 L1172,138 Q1223,150 1276,138 L1276,110Z" fill="#1a1a1c"/>
<path d="M1176,101 L1176,113 Q1223,126 1273,113 L1273,101Z" fill="#121214"/>
<ellipse cx="1224.3" cy="103" rx="48.5" ry="8.6" fill="#0e0e10"/>
<ellipse cx="1224.3" cy="102.5" rx="36" ry="6.2" fill="#2a2a2e"/>
<ellipse cx="1224.3" cy="102.8" rx="26" ry="4.4" fill="#070708"/>
<path d="M1178,117 Q1223,130 1271,117" stroke="#48484c" stroke-width="3" fill="none" filter="url(#soft2)"/>
<path d="M1190,134 Q1223,139 1262,134" stroke="#3a3a3e" stroke-width="3" stroke-dasharray="2 3" fill="none"/>
</g>
<g filter="url(#soft)">
<line x1="819" y1="482.5" x2="1120" y2="755" stroke="#38383a" stroke-width="2.4"/>
<line x1="887.5" y1="772" x2="1120" y2="755" stroke="#38383a" stroke-width="2.4"/>
<circle cx="1120" cy="755" r="11" fill="#47474b"/>
</g>
</g>
</svg>
</body></html>
